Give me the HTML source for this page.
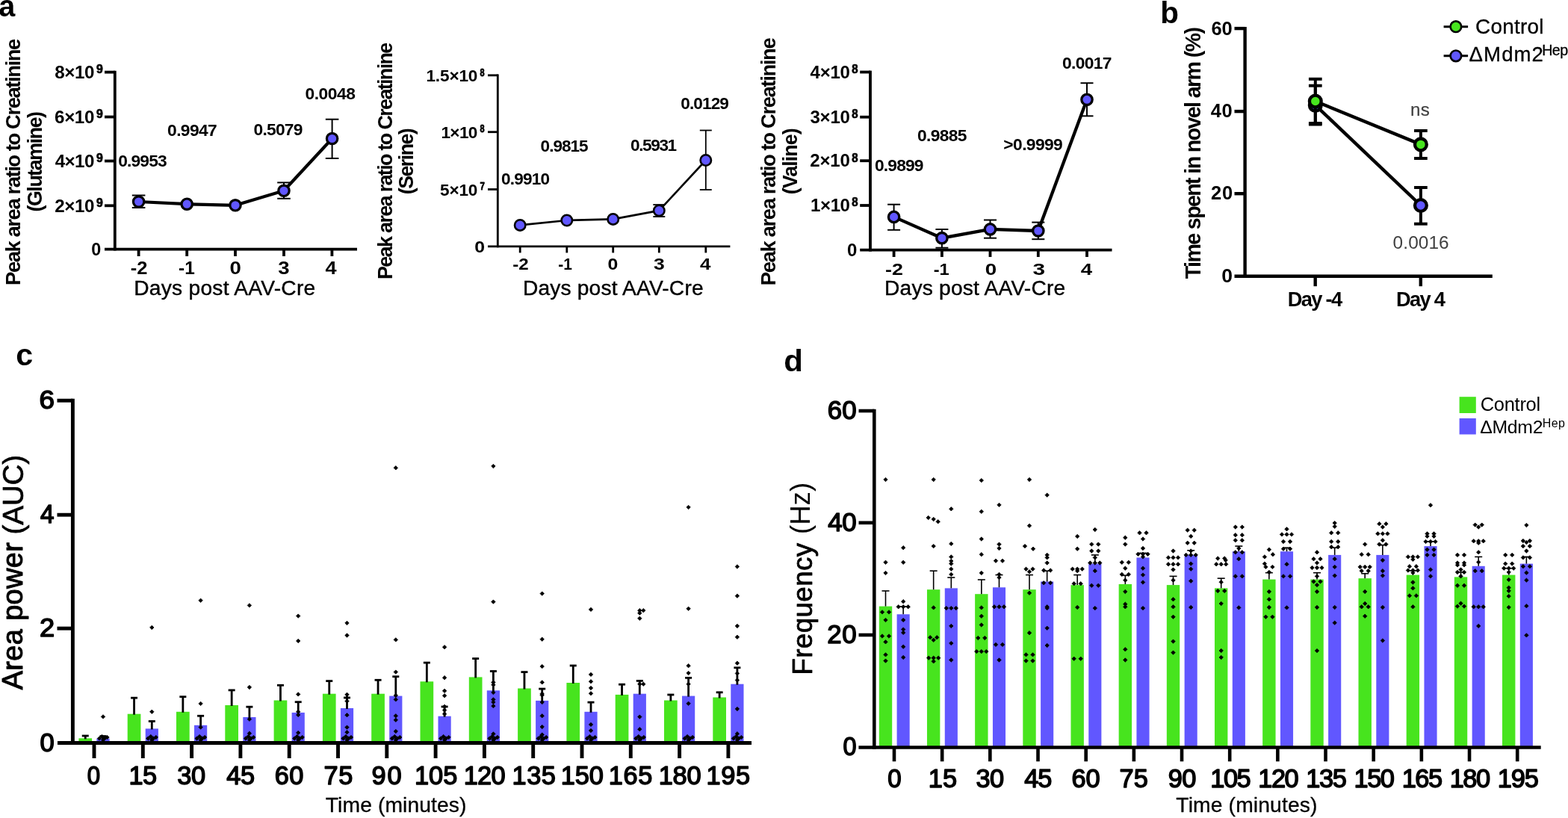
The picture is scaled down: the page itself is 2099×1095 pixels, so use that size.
<!DOCTYPE html>
<html><head><meta charset="utf-8"><title>Figure</title>
<style>html,body{margin:0;padding:0;background:#fff;overflow:hidden}svg{display:block}</style></head>
<body><svg width="2099" height="1095" viewBox="0 0 2099 1095" font-family="'Liberation Sans', Arial, sans-serif">
<rect width="2099" height="1095" fill="#fff"/>
<text x="-1.79" y="22.00" font-size="40.00" font-weight="bold" fill="#000" textLength="22.04" lengthAdjust="spacingAndGlyphs">a</text>
<text x="1553.37" y="30.60" font-size="40.00" font-weight="bold" fill="#000" textLength="24.68" lengthAdjust="spacingAndGlyphs">b</text>
<text x="21.25" y="489.10" font-size="40.00" font-weight="bold" fill="#000" textLength="22.93" lengthAdjust="spacingAndGlyphs">c</text>
<text x="1049.22" y="497.20" font-size="40.00" font-weight="bold" fill="#000" textLength="25.64" lengthAdjust="spacingAndGlyphs">d</text>
<line x1="140.00" y1="333.60" x2="478.00" y2="333.60" stroke="#000" stroke-width="3.8" stroke-linecap="butt"/>
<line x1="153.80" y1="94.70" x2="153.80" y2="335.50" stroke="#000" stroke-width="3.8" stroke-linecap="butt"/>
<line x1="140.00" y1="96.60" x2="153.80" y2="96.60" stroke="#000" stroke-width="3.8" stroke-linecap="butt"/>
<line x1="140.00" y1="156.50" x2="153.80" y2="156.50" stroke="#000" stroke-width="3.8" stroke-linecap="butt"/>
<line x1="140.00" y1="215.50" x2="153.80" y2="215.50" stroke="#000" stroke-width="3.8" stroke-linecap="butt"/>
<line x1="140.00" y1="275.30" x2="153.80" y2="275.30" stroke="#000" stroke-width="3.8" stroke-linecap="butt"/>
<line x1="185.60" y1="333.60" x2="185.60" y2="343.00" stroke="#000" stroke-width="3.8" stroke-linecap="butt"/>
<line x1="250.20" y1="333.60" x2="250.20" y2="343.00" stroke="#000" stroke-width="3.8" stroke-linecap="butt"/>
<line x1="315.00" y1="333.60" x2="315.00" y2="343.00" stroke="#000" stroke-width="3.8" stroke-linecap="butt"/>
<line x1="380.00" y1="333.60" x2="380.00" y2="343.00" stroke="#000" stroke-width="3.8" stroke-linecap="butt"/>
<line x1="444.40" y1="333.60" x2="444.40" y2="343.00" stroke="#000" stroke-width="3.8" stroke-linecap="butt"/>
<text x="73.21" y="105.20" font-size="24.20" font-weight="bold" fill="#000" textLength="53.15" lengthAdjust="spacing">8×10</text>
<text x="128.99" y="97.96" font-size="16.51" font-weight="bold" fill="#000" textLength="8.83" lengthAdjust="spacingAndGlyphs" stroke="#000" stroke-width="0.7" stroke-linejoin="round">9</text>
<text x="73.09" y="165.10" font-size="24.20" font-weight="bold" fill="#000" textLength="53.28" lengthAdjust="spacing">6×10</text>
<text x="128.99" y="157.86" font-size="16.51" font-weight="bold" fill="#000" textLength="8.83" lengthAdjust="spacingAndGlyphs" stroke="#000" stroke-width="0.7" stroke-linejoin="round">9</text>
<text x="73.64" y="224.10" font-size="24.20" font-weight="bold" fill="#000" textLength="52.73" lengthAdjust="spacing">4×10</text>
<text x="128.99" y="216.86" font-size="16.51" font-weight="bold" fill="#000" textLength="8.83" lengthAdjust="spacingAndGlyphs" stroke="#000" stroke-width="0.7" stroke-linejoin="round">9</text>
<text x="73.15" y="283.90" font-size="24.20" font-weight="bold" fill="#000" textLength="53.22" lengthAdjust="spacing">2×10</text>
<text x="128.99" y="276.66" font-size="16.51" font-weight="bold" fill="#000" textLength="8.83" lengthAdjust="spacingAndGlyphs" stroke="#000" stroke-width="0.7" stroke-linejoin="round">9</text>
<text x="122.27" y="342.00" font-size="24.20" font-weight="bold" fill="#000" textLength="13.00" lengthAdjust="spacingAndGlyphs">0</text>
<text x="174.68" y="367.00" font-size="24.60" font-weight="bold" fill="#000" textLength="22.68" lengthAdjust="spacingAndGlyphs">-2</text>
<text x="239.02" y="367.00" font-size="24.60" font-weight="bold" fill="#000" textLength="21.69" lengthAdjust="spacingAndGlyphs">-1</text>
<text x="307.40" y="367.00" font-size="24.60" font-weight="bold" fill="#000" textLength="15.34" lengthAdjust="spacingAndGlyphs">0</text>
<text x="372.28" y="367.00" font-size="24.60" font-weight="bold" fill="#000" textLength="15.32" lengthAdjust="spacingAndGlyphs">3</text>
<text x="435.49" y="367.00" font-size="24.60" font-weight="bold" fill="#000" textLength="15.07" lengthAdjust="spacingAndGlyphs">4</text>
<text x="179.28" y="395.19" font-size="28.16" fill="#000" textLength="242.92" lengthAdjust="spacing" stroke="#000" stroke-width="0.4" stroke-linejoin="round">Days post AAV-Cre</text>
<text transform="translate(26.70,381.96) rotate(-90)" x="0" y="0" font-size="27.50" font-weight="bold" fill="#000" textLength="330.27" lengthAdjust="spacing">Peak area ratio to Creatinine</text>
<text transform="translate(56.00,283.54) rotate(-90)" x="0" y="0" font-size="26.80" font-weight="bold" fill="#000" textLength="134.60" lengthAdjust="spacing">(Glutamine)</text>
<line x1="185.60" y1="261.50" x2="185.60" y2="278.00" stroke="#000" stroke-width="2.0" stroke-linecap="butt"/>
<line x1="176.80" y1="261.50" x2="194.40" y2="261.50" stroke="#000" stroke-width="2.0" stroke-linecap="butt"/>
<line x1="176.80" y1="278.00" x2="194.40" y2="278.00" stroke="#000" stroke-width="2.0" stroke-linecap="butt"/>
<line x1="380.00" y1="244.40" x2="380.00" y2="265.80" stroke="#000" stroke-width="2.0" stroke-linecap="butt"/>
<line x1="371.20" y1="244.40" x2="388.80" y2="244.40" stroke="#000" stroke-width="2.0" stroke-linecap="butt"/>
<line x1="371.20" y1="265.80" x2="388.80" y2="265.80" stroke="#000" stroke-width="2.0" stroke-linecap="butt"/>
<line x1="444.60" y1="159.70" x2="444.60" y2="212.00" stroke="#000" stroke-width="2.0" stroke-linecap="butt"/>
<line x1="435.80" y1="159.70" x2="453.40" y2="159.70" stroke="#000" stroke-width="2.0" stroke-linecap="butt"/>
<line x1="435.80" y1="212.00" x2="453.40" y2="212.00" stroke="#000" stroke-width="2.0" stroke-linecap="butt"/>
<path d="M185.60,270.00 L250.20,273.20 L315.00,274.80 L380.00,255.30 L444.60,185.50" fill="none" stroke="#000" stroke-width="4.2" stroke-linejoin="round"/>
<circle cx="185.60" cy="270.00" r="7.20" fill="#6157FF" stroke="#000" stroke-width="3.2"/>
<circle cx="250.20" cy="273.20" r="7.20" fill="#6157FF" stroke="#000" stroke-width="3.2"/>
<circle cx="315.00" cy="274.80" r="7.20" fill="#6157FF" stroke="#000" stroke-width="3.2"/>
<circle cx="380.00" cy="255.30" r="7.20" fill="#6157FF" stroke="#000" stroke-width="3.2"/>
<circle cx="444.60" cy="185.50" r="7.20" fill="#6157FF" stroke="#000" stroke-width="3.2"/>
<text x="158.29" y="222.80" font-size="22.80" font-weight="bold" fill="#000" textLength="65.34" lengthAdjust="spacing">0.9953</text>
<text x="224.09" y="182.10" font-size="22.80" font-weight="bold" fill="#000" textLength="66.61" lengthAdjust="spacing">0.9947</text>
<text x="339.49" y="181.40" font-size="22.80" font-weight="bold" fill="#000" textLength="65.94" lengthAdjust="spacing">0.5079</text>
<text x="408.39" y="133.40" font-size="22.80" font-weight="bold" fill="#000" textLength="67.62" lengthAdjust="spacing">0.0048</text>
<line x1="653.00" y1="329.90" x2="977.40" y2="329.90" stroke="#000" stroke-width="2.8" stroke-linecap="butt"/>
<line x1="666.30" y1="99.40" x2="666.30" y2="331.30" stroke="#000" stroke-width="2.8" stroke-linecap="butt"/>
<line x1="653.00" y1="100.80" x2="666.30" y2="100.80" stroke="#000" stroke-width="2.8" stroke-linecap="butt"/>
<line x1="653.00" y1="176.70" x2="666.30" y2="176.70" stroke="#000" stroke-width="2.8" stroke-linecap="butt"/>
<line x1="653.00" y1="253.50" x2="666.30" y2="253.50" stroke="#000" stroke-width="2.8" stroke-linecap="butt"/>
<line x1="696.20" y1="329.90" x2="696.20" y2="338.40" stroke="#000" stroke-width="2.8" stroke-linecap="butt"/>
<line x1="758.80" y1="329.90" x2="758.80" y2="338.40" stroke="#000" stroke-width="2.8" stroke-linecap="butt"/>
<line x1="820.70" y1="329.90" x2="820.70" y2="338.40" stroke="#000" stroke-width="2.8" stroke-linecap="butt"/>
<line x1="882.30" y1="329.90" x2="882.30" y2="338.40" stroke="#000" stroke-width="2.8" stroke-linecap="butt"/>
<line x1="944.80" y1="329.90" x2="944.80" y2="338.40" stroke="#000" stroke-width="2.8" stroke-linecap="butt"/>
<text x="570.39" y="109.40" font-size="22.60" font-weight="bold" fill="#000" textLength="69.05" lengthAdjust="spacing">1.5×10</text>
<text x="642.54" y="101.91" font-size="14.37" font-weight="bold" fill="#000" textLength="6.10" lengthAdjust="spacingAndGlyphs" stroke="#000" stroke-width="0.8" stroke-linejoin="round">8</text>
<text x="590.39" y="184.70" font-size="22.60" font-weight="bold" fill="#000" textLength="49.02" lengthAdjust="spacing">1×10</text>
<text x="642.54" y="177.21" font-size="14.37" font-weight="bold" fill="#000" textLength="6.10" lengthAdjust="spacingAndGlyphs" stroke="#000" stroke-width="0.8" stroke-linejoin="round">8</text>
<text x="589.12" y="261.50" font-size="22.60" font-weight="bold" fill="#000" textLength="50.28" lengthAdjust="spacing">5×10</text>
<text x="642.41" y="254.00" font-size="14.34" font-weight="bold" fill="#000" textLength="6.39" lengthAdjust="spacingAndGlyphs" stroke="#000" stroke-width="0.8" stroke-linejoin="round">7</text>
<text x="635.21" y="337.60" font-size="22.60" font-weight="bold" fill="#000" textLength="13.82" lengthAdjust="spacingAndGlyphs">0</text>
<text x="686.23" y="361.30" font-size="22.60" font-weight="bold" fill="#000" textLength="21.47" lengthAdjust="spacingAndGlyphs">-2</text>
<text x="747.36" y="361.30" font-size="22.60" font-weight="bold" fill="#000" textLength="18.65" lengthAdjust="spacingAndGlyphs">-1</text>
<text x="813.51" y="361.30" font-size="22.60" font-weight="bold" fill="#000" textLength="13.82" lengthAdjust="spacingAndGlyphs">0</text>
<text x="875.00" y="361.30" font-size="22.60" font-weight="bold" fill="#000" textLength="14.76" lengthAdjust="spacingAndGlyphs">3</text>
<text x="936.91" y="361.30" font-size="22.60" font-weight="bold" fill="#000" textLength="14.45" lengthAdjust="spacingAndGlyphs">4</text>
<text x="699.98" y="395.09" font-size="28.16" fill="#000" textLength="241.62" lengthAdjust="spacing" stroke="#000" stroke-width="0.4" stroke-linejoin="round">Days post AAV-Cre</text>
<text transform="translate(524.80,374.02) rotate(-90)" x="0" y="0" font-size="27.00" font-weight="bold" fill="#000" textLength="317.32" lengthAdjust="spacing">Peak area ratio to Creatinine</text>
<text transform="translate(553.00,260.24) rotate(-90)" x="0" y="0" font-size="26.80" font-weight="bold" fill="#000" textLength="89.00" lengthAdjust="spacing">(Serine)</text>
<line x1="882.30" y1="274.00" x2="882.30" y2="290.00" stroke="#000" stroke-width="1.8" stroke-linecap="butt"/>
<line x1="874.30" y1="274.00" x2="890.30" y2="274.00" stroke="#000" stroke-width="1.8" stroke-linecap="butt"/>
<line x1="874.30" y1="290.00" x2="890.30" y2="290.00" stroke="#000" stroke-width="1.8" stroke-linecap="butt"/>
<line x1="944.80" y1="174.50" x2="944.80" y2="254.00" stroke="#000" stroke-width="1.8" stroke-linecap="butt"/>
<line x1="936.80" y1="174.50" x2="952.80" y2="174.50" stroke="#000" stroke-width="1.8" stroke-linecap="butt"/>
<line x1="936.80" y1="254.00" x2="952.80" y2="254.00" stroke="#000" stroke-width="1.8" stroke-linecap="butt"/>
<path d="M696.20,301.40 L758.80,295.00 L820.70,293.40 L882.30,281.90 L944.80,214.50" fill="none" stroke="#000" stroke-width="2.6" stroke-linejoin="round"/>
<circle cx="696.20" cy="301.40" r="7.20" fill="#6157FF" stroke="#000" stroke-width="2.6"/>
<circle cx="758.80" cy="295.00" r="7.20" fill="#6157FF" stroke="#000" stroke-width="2.6"/>
<circle cx="820.70" cy="293.40" r="7.20" fill="#6157FF" stroke="#000" stroke-width="2.6"/>
<circle cx="882.30" cy="281.90" r="7.20" fill="#6157FF" stroke="#000" stroke-width="2.6"/>
<circle cx="944.80" cy="214.50" r="7.20" fill="#6157FF" stroke="#000" stroke-width="2.6"/>
<text x="671.00" y="246.80" font-size="22.60" font-weight="bold" fill="#000" textLength="65.04" lengthAdjust="spacing">0.9910</text>
<text x="723.60" y="203.30" font-size="22.60" font-weight="bold" fill="#000" textLength="64.05" lengthAdjust="spacing">0.9815</text>
<text x="844.00" y="202.30" font-size="22.60" font-weight="bold" fill="#000" textLength="62.15" lengthAdjust="spacing">0.5931</text>
<text x="911.20" y="146.00" font-size="22.60" font-weight="bold" fill="#000" textLength="64.72" lengthAdjust="spacing">0.0129</text>
<line x1="1151.20" y1="334.70" x2="1488.50" y2="334.70" stroke="#000" stroke-width="3.8" stroke-linecap="butt"/>
<line x1="1165.00" y1="94.60" x2="1165.00" y2="336.60" stroke="#000" stroke-width="3.8" stroke-linecap="butt"/>
<line x1="1151.20" y1="96.50" x2="1165.00" y2="96.50" stroke="#000" stroke-width="3.8" stroke-linecap="butt"/>
<line x1="1151.20" y1="156.70" x2="1165.00" y2="156.70" stroke="#000" stroke-width="3.8" stroke-linecap="butt"/>
<line x1="1151.20" y1="215.20" x2="1165.00" y2="215.20" stroke="#000" stroke-width="3.8" stroke-linecap="butt"/>
<line x1="1151.20" y1="275.00" x2="1165.00" y2="275.00" stroke="#000" stroke-width="3.8" stroke-linecap="butt"/>
<line x1="1196.60" y1="334.70" x2="1196.60" y2="344.00" stroke="#000" stroke-width="3.8" stroke-linecap="butt"/>
<line x1="1260.90" y1="334.70" x2="1260.90" y2="344.00" stroke="#000" stroke-width="3.8" stroke-linecap="butt"/>
<line x1="1325.50" y1="334.70" x2="1325.50" y2="344.00" stroke="#000" stroke-width="3.8" stroke-linecap="butt"/>
<line x1="1389.80" y1="334.70" x2="1389.80" y2="344.00" stroke="#000" stroke-width="3.8" stroke-linecap="butt"/>
<line x1="1455.00" y1="334.70" x2="1455.00" y2="344.00" stroke="#000" stroke-width="3.8" stroke-linecap="butt"/>
<text x="1084.54" y="104.70" font-size="24.00" font-weight="bold" fill="#000" textLength="53.42" lengthAdjust="spacing">4×10</text>
<text x="1140.36" y="97.86" font-size="16.01" font-weight="bold" fill="#000" textLength="8.36" lengthAdjust="spacingAndGlyphs" stroke="#000" stroke-width="0.7" stroke-linejoin="round">8</text>
<text x="1084.46" y="164.90" font-size="24.00" font-weight="bold" fill="#000" textLength="53.50" lengthAdjust="spacing">3×10</text>
<text x="1140.36" y="158.06" font-size="16.01" font-weight="bold" fill="#000" textLength="8.36" lengthAdjust="spacingAndGlyphs" stroke="#000" stroke-width="0.7" stroke-linejoin="round">8</text>
<text x="1084.16" y="223.40" font-size="24.00" font-weight="bold" fill="#000" textLength="53.80" lengthAdjust="spacing">2×10</text>
<text x="1140.36" y="216.56" font-size="16.01" font-weight="bold" fill="#000" textLength="8.36" lengthAdjust="spacingAndGlyphs" stroke="#000" stroke-width="0.7" stroke-linejoin="round">8</text>
<text x="1085.10" y="283.20" font-size="24.00" font-weight="bold" fill="#000" textLength="52.86" lengthAdjust="spacing">1×10</text>
<text x="1140.36" y="276.36" font-size="16.01" font-weight="bold" fill="#000" textLength="8.36" lengthAdjust="spacingAndGlyphs" stroke="#000" stroke-width="0.7" stroke-linejoin="round">8</text>
<text x="1134.04" y="342.90" font-size="24.00" font-weight="bold" fill="#000" textLength="13.35" lengthAdjust="spacingAndGlyphs">0</text>
<text x="1185.13" y="368.20" font-size="22.30" font-weight="bold" fill="#000" textLength="23.89" lengthAdjust="spacingAndGlyphs">-2</text>
<text x="1249.65" y="368.20" font-size="22.30" font-weight="bold" fill="#000" textLength="21.04" lengthAdjust="spacingAndGlyphs">-1</text>
<text x="1318.69" y="368.20" font-size="22.30" font-weight="bold" fill="#000" textLength="15.46" lengthAdjust="spacingAndGlyphs">0</text>
<text x="1382.43" y="368.20" font-size="22.30" font-weight="bold" fill="#000" textLength="16.55" lengthAdjust="spacingAndGlyphs">3</text>
<text x="1446.69" y="368.20" font-size="22.30" font-weight="bold" fill="#000" textLength="15.39" lengthAdjust="spacingAndGlyphs">4</text>
<text x="1184.08" y="395.29" font-size="28.16" fill="#000" textLength="242.12" lengthAdjust="spacing" stroke="#000" stroke-width="0.4" stroke-linejoin="round">Days post AAV-Cre</text>
<text transform="translate(1037.80,382.26) rotate(-90)" x="0" y="0" font-size="27.50" font-weight="bold" fill="#000" textLength="332.07" lengthAdjust="spacing">Peak area ratio to Creatinine</text>
<text transform="translate(1066.80,260.34) rotate(-90)" x="0" y="0" font-size="26.80" font-weight="bold" fill="#000" textLength="89.06" lengthAdjust="spacing">(Valine)</text>
<line x1="1196.60" y1="273.70" x2="1196.60" y2="307.80" stroke="#000" stroke-width="2.0" stroke-linecap="butt"/>
<line x1="1188.10" y1="273.70" x2="1205.10" y2="273.70" stroke="#000" stroke-width="2.0" stroke-linecap="butt"/>
<line x1="1188.10" y1="307.80" x2="1205.10" y2="307.80" stroke="#000" stroke-width="2.0" stroke-linecap="butt"/>
<line x1="1260.90" y1="307.00" x2="1260.90" y2="331.70" stroke="#000" stroke-width="2.0" stroke-linecap="butt"/>
<line x1="1252.40" y1="307.00" x2="1269.40" y2="307.00" stroke="#000" stroke-width="2.0" stroke-linecap="butt"/>
<line x1="1252.40" y1="331.70" x2="1269.40" y2="331.70" stroke="#000" stroke-width="2.0" stroke-linecap="butt"/>
<line x1="1325.50" y1="294.50" x2="1325.50" y2="318.70" stroke="#000" stroke-width="2.0" stroke-linecap="butt"/>
<line x1="1317.00" y1="294.50" x2="1334.00" y2="294.50" stroke="#000" stroke-width="2.0" stroke-linecap="butt"/>
<line x1="1317.00" y1="318.70" x2="1334.00" y2="318.70" stroke="#000" stroke-width="2.0" stroke-linecap="butt"/>
<line x1="1389.80" y1="297.60" x2="1389.80" y2="320.20" stroke="#000" stroke-width="2.0" stroke-linecap="butt"/>
<line x1="1381.30" y1="297.60" x2="1398.30" y2="297.60" stroke="#000" stroke-width="2.0" stroke-linecap="butt"/>
<line x1="1381.30" y1="320.20" x2="1398.30" y2="320.20" stroke="#000" stroke-width="2.0" stroke-linecap="butt"/>
<line x1="1455.00" y1="111.20" x2="1455.00" y2="155.30" stroke="#000" stroke-width="2.0" stroke-linecap="butt"/>
<line x1="1446.50" y1="111.20" x2="1463.50" y2="111.20" stroke="#000" stroke-width="2.0" stroke-linecap="butt"/>
<line x1="1446.50" y1="155.30" x2="1463.50" y2="155.30" stroke="#000" stroke-width="2.0" stroke-linecap="butt"/>
<path d="M1196.60,290.40 L1260.90,318.70 L1325.50,306.90 L1389.80,309.00 L1455.00,133.30" fill="none" stroke="#000" stroke-width="4.3" stroke-linejoin="round"/>
<circle cx="1196.60" cy="290.40" r="7.20" fill="#6157FF" stroke="#000" stroke-width="3.3"/>
<circle cx="1260.90" cy="318.70" r="7.20" fill="#6157FF" stroke="#000" stroke-width="3.3"/>
<circle cx="1325.50" cy="306.90" r="7.20" fill="#6157FF" stroke="#000" stroke-width="3.3"/>
<circle cx="1389.80" cy="309.00" r="7.20" fill="#6157FF" stroke="#000" stroke-width="3.3"/>
<circle cx="1455.00" cy="133.30" r="7.20" fill="#6157FF" stroke="#000" stroke-width="3.3"/>
<text x="1170.99" y="229.40" font-size="22.80" font-weight="bold" fill="#000" textLength="65.54" lengthAdjust="spacing">0.9899</text>
<text x="1227.89" y="188.90" font-size="22.80" font-weight="bold" fill="#000" textLength="66.57" lengthAdjust="spacing">0.9885</text>
<text x="1343.33" y="201.00" font-size="22.80" font-weight="bold" fill="#000" textLength="79.47" lengthAdjust="spacing">&gt;0.9999</text>
<text x="1421.99" y="92.30" font-size="22.80" font-weight="bold" fill="#000" textLength="66.41" lengthAdjust="spacing">0.0017</text>
<line x1="1652.50" y1="369.70" x2="1997.80" y2="369.70" stroke="#000" stroke-width="4.4" stroke-linecap="butt"/>
<line x1="1666.60" y1="35.90" x2="1666.60" y2="371.90" stroke="#000" stroke-width="4.4" stroke-linecap="butt"/>
<line x1="1652.50" y1="38.10" x2="1666.60" y2="38.10" stroke="#000" stroke-width="4.4" stroke-linecap="butt"/>
<line x1="1652.50" y1="149.10" x2="1666.60" y2="149.10" stroke="#000" stroke-width="4.4" stroke-linecap="butt"/>
<line x1="1652.50" y1="259.20" x2="1666.60" y2="259.20" stroke="#000" stroke-width="4.4" stroke-linecap="butt"/>
<line x1="1760.70" y1="369.70" x2="1760.70" y2="383.20" stroke="#000" stroke-width="4.4" stroke-linecap="butt"/>
<line x1="1901.80" y1="369.70" x2="1901.80" y2="383.20" stroke="#000" stroke-width="4.4" stroke-linecap="butt"/>
<text x="1621.44" y="46.90" font-size="25.50" font-weight="bold" fill="#000" textLength="28.34" lengthAdjust="spacing">60</text>
<text x="1620.82" y="157.20" font-size="25.50" font-weight="bold" fill="#000" textLength="28.96" lengthAdjust="spacing">40</text>
<text x="1621.01" y="267.40" font-size="25.50" font-weight="bold" fill="#000" textLength="29.07" lengthAdjust="spacing">20</text>
<text x="1635.34" y="377.60" font-size="25.50" font-weight="bold" fill="#000" textLength="14.75" lengthAdjust="spacingAndGlyphs">0</text>
<text transform="translate(1606.50,373.19) rotate(-90)" x="0" y="0" font-size="28.60" font-weight="bold" fill="#000" textLength="337.12" lengthAdjust="spacing">Time spent in novel arm (%)</text>
<text x="1723.66" y="410.30" font-size="27.30" font-weight="bold" fill="#000" textLength="73.52" lengthAdjust="spacing">Day -4</text>
<text x="1869.06" y="410.30" font-size="27.30" font-weight="bold" fill="#000" textLength="65.81" lengthAdjust="spacing">Day 4</text>
<text x="1888.07" y="155.20" font-size="24.13" fill="#404040" textLength="25.70" lengthAdjust="spacing" stroke="#404040" stroke-width="0.2" stroke-linejoin="round">ns</text>
<text x="1864.62" y="332.60" font-size="24.40" fill="#404040" textLength="75.04" lengthAdjust="spacing">0.0016</text>
<line x1="1760.80" y1="114.70" x2="1760.80" y2="166.50" stroke="#000" stroke-width="4.0" stroke-linecap="butt"/>
<line x1="1751.95" y1="114.70" x2="1769.65" y2="114.70" stroke="#000" stroke-width="4.0" stroke-linecap="butt"/>
<line x1="1751.95" y1="166.50" x2="1769.65" y2="166.50" stroke="#000" stroke-width="4.0" stroke-linecap="butt"/>
<line x1="1901.90" y1="251.00" x2="1901.90" y2="299.70" stroke="#000" stroke-width="4.0" stroke-linecap="butt"/>
<line x1="1893.05" y1="251.00" x2="1910.75" y2="251.00" stroke="#000" stroke-width="4.0" stroke-linecap="butt"/>
<line x1="1893.05" y1="299.70" x2="1910.75" y2="299.70" stroke="#000" stroke-width="4.0" stroke-linecap="butt"/>
<path d="M1760.8,140.8 L1901.9,275" fill="none" stroke="#000" stroke-width="4.4"/>
<circle cx="1760.80" cy="140.80" r="7.90" fill="#6157FF" stroke="#000" stroke-width="4.3"/>
<circle cx="1901.90" cy="275.00" r="7.90" fill="#6157FF" stroke="#000" stroke-width="4.3"/>
<line x1="1760.80" y1="105.80" x2="1760.80" y2="165.00" stroke="#000" stroke-width="4.0" stroke-linecap="butt"/>
<line x1="1751.95" y1="105.80" x2="1769.65" y2="105.80" stroke="#000" stroke-width="4.0" stroke-linecap="butt"/>
<line x1="1751.95" y1="165.00" x2="1769.65" y2="165.00" stroke="#000" stroke-width="4.0" stroke-linecap="butt"/>
<line x1="1901.90" y1="175.00" x2="1901.90" y2="212.00" stroke="#000" stroke-width="4.0" stroke-linecap="butt"/>
<line x1="1893.05" y1="175.00" x2="1910.75" y2="175.00" stroke="#000" stroke-width="4.0" stroke-linecap="butt"/>
<line x1="1893.05" y1="212.00" x2="1910.75" y2="212.00" stroke="#000" stroke-width="4.0" stroke-linecap="butt"/>
<path d="M1760.8,135.5 L1901.9,193.4" fill="none" stroke="#000" stroke-width="4.4"/>
<circle cx="1760.80" cy="135.50" r="7.90" fill="#47E41E" stroke="#000" stroke-width="4.3"/>
<circle cx="1901.90" cy="193.40" r="7.90" fill="#47E41E" stroke="#000" stroke-width="4.3"/>
<line x1="1932.60" y1="35.70" x2="1965.10" y2="35.70" stroke="#000" stroke-width="3.0" stroke-linecap="butt"/>
<circle cx="1948.90" cy="35.70" r="7.30" fill="#47E41E" stroke="#000" stroke-width="2.6"/>
<line x1="1932.60" y1="74.80" x2="1965.10" y2="74.80" stroke="#000" stroke-width="3.0" stroke-linecap="butt"/>
<circle cx="1948.90" cy="74.80" r="7.30" fill="#6157FF" stroke="#000" stroke-width="2.6"/>
<text x="1975.06" y="44.55" font-size="27.89" fill="#000" textLength="91.34" lengthAdjust="spacing" stroke="#000" stroke-width="0.3" stroke-linejoin="round">Control</text>
<text x="1966.62" y="81.75" font-size="27.59" fill="#000" textLength="99.34" lengthAdjust="spacing" stroke="#000" stroke-width="0.3" stroke-linejoin="round">ΔMdm2</text>
<text x="2064.23" y="74.22" font-size="19.66" fill="#000" textLength="34.85" lengthAdjust="spacing" stroke="#000" stroke-width="0.3" stroke-linejoin="round">Hep</text>
<rect x="105.40" y="988.30" width="17.70" height="6.20" fill="#47E41E"/>
<rect x="129.40" y="988.50" width="17.20" height="6.00" fill="#6157FF"/>
<rect x="170.70" y="955.70" width="17.70" height="38.80" fill="#47E41E"/>
<rect x="194.70" y="975.40" width="17.20" height="19.10" fill="#6157FF"/>
<rect x="236.00" y="952.80" width="17.70" height="41.70" fill="#47E41E"/>
<rect x="260.00" y="970.80" width="17.20" height="23.70" fill="#6157FF"/>
<rect x="301.30" y="944.00" width="17.70" height="50.50" fill="#47E41E"/>
<rect x="325.30" y="960.00" width="17.20" height="34.50" fill="#6157FF"/>
<rect x="366.60" y="937.50" width="17.70" height="57.00" fill="#47E41E"/>
<rect x="390.60" y="953.90" width="17.20" height="40.60" fill="#6157FF"/>
<rect x="431.90" y="928.70" width="17.70" height="65.80" fill="#47E41E"/>
<rect x="455.90" y="948.00" width="17.20" height="46.50" fill="#6157FF"/>
<rect x="497.20" y="928.70" width="17.70" height="65.80" fill="#47E41E"/>
<rect x="521.20" y="931.60" width="17.20" height="62.90" fill="#6157FF"/>
<rect x="562.50" y="912.30" width="17.70" height="82.20" fill="#47E41E"/>
<rect x="586.50" y="958.70" width="17.20" height="35.80" fill="#6157FF"/>
<rect x="627.80" y="906.40" width="17.70" height="88.10" fill="#47E41E"/>
<rect x="651.80" y="924.30" width="17.20" height="70.20" fill="#6157FF"/>
<rect x="693.10" y="921.50" width="17.70" height="73.00" fill="#47E41E"/>
<rect x="717.10" y="937.90" width="17.20" height="56.60" fill="#6157FF"/>
<rect x="758.40" y="914.00" width="17.70" height="80.50" fill="#47E41E"/>
<rect x="782.40" y="952.80" width="17.20" height="41.70" fill="#6157FF"/>
<rect x="823.70" y="929.90" width="17.70" height="64.60" fill="#47E41E"/>
<rect x="847.70" y="928.70" width="17.20" height="65.80" fill="#6157FF"/>
<rect x="889.00" y="937.50" width="17.70" height="57.00" fill="#47E41E"/>
<rect x="913.00" y="931.60" width="17.20" height="62.90" fill="#6157FF"/>
<rect x="954.30" y="933.50" width="17.70" height="61.00" fill="#47E41E"/>
<rect x="978.30" y="915.70" width="17.20" height="78.80" fill="#6157FF"/>
<line x1="114.25" y1="985.00" x2="114.25" y2="989.30" stroke="#000" stroke-width="2.8" stroke-linecap="butt"/>
<line x1="109.75" y1="985.00" x2="118.75" y2="985.00" stroke="#000" stroke-width="2.8" stroke-linecap="butt"/>
<line x1="138.00" y1="985.50" x2="138.00" y2="989.50" stroke="#000" stroke-width="2.8" stroke-linecap="butt"/>
<line x1="133.50" y1="985.50" x2="142.50" y2="985.50" stroke="#000" stroke-width="2.8" stroke-linecap="butt"/>
<line x1="179.55" y1="934.20" x2="179.55" y2="956.70" stroke="#000" stroke-width="2.8" stroke-linecap="butt"/>
<line x1="175.05" y1="934.20" x2="184.05" y2="934.20" stroke="#000" stroke-width="2.8" stroke-linecap="butt"/>
<line x1="203.30" y1="965.50" x2="203.30" y2="976.40" stroke="#000" stroke-width="2.8" stroke-linecap="butt"/>
<line x1="198.80" y1="965.50" x2="207.80" y2="965.50" stroke="#000" stroke-width="2.8" stroke-linecap="butt"/>
<line x1="244.85" y1="932.70" x2="244.85" y2="953.80" stroke="#000" stroke-width="2.8" stroke-linecap="butt"/>
<line x1="240.35" y1="932.70" x2="249.35" y2="932.70" stroke="#000" stroke-width="2.8" stroke-linecap="butt"/>
<line x1="268.60" y1="958.30" x2="268.60" y2="971.80" stroke="#000" stroke-width="2.8" stroke-linecap="butt"/>
<line x1="264.10" y1="958.30" x2="273.10" y2="958.30" stroke="#000" stroke-width="2.8" stroke-linecap="butt"/>
<line x1="310.15" y1="923.90" x2="310.15" y2="945.00" stroke="#000" stroke-width="2.8" stroke-linecap="butt"/>
<line x1="305.65" y1="923.90" x2="314.65" y2="923.90" stroke="#000" stroke-width="2.8" stroke-linecap="butt"/>
<line x1="333.90" y1="946.20" x2="333.90" y2="961.00" stroke="#000" stroke-width="2.8" stroke-linecap="butt"/>
<line x1="329.40" y1="946.20" x2="338.40" y2="946.20" stroke="#000" stroke-width="2.8" stroke-linecap="butt"/>
<line x1="375.45" y1="917.30" x2="375.45" y2="938.50" stroke="#000" stroke-width="2.8" stroke-linecap="butt"/>
<line x1="370.95" y1="917.30" x2="379.95" y2="917.30" stroke="#000" stroke-width="2.8" stroke-linecap="butt"/>
<line x1="399.20" y1="939.70" x2="399.20" y2="954.90" stroke="#000" stroke-width="2.8" stroke-linecap="butt"/>
<line x1="394.70" y1="939.70" x2="403.70" y2="939.70" stroke="#000" stroke-width="2.8" stroke-linecap="butt"/>
<line x1="440.75" y1="911.60" x2="440.75" y2="929.70" stroke="#000" stroke-width="2.8" stroke-linecap="butt"/>
<line x1="436.25" y1="911.60" x2="445.25" y2="911.60" stroke="#000" stroke-width="2.8" stroke-linecap="butt"/>
<line x1="464.50" y1="934.00" x2="464.50" y2="949.00" stroke="#000" stroke-width="2.8" stroke-linecap="butt"/>
<line x1="460.00" y1="934.00" x2="469.00" y2="934.00" stroke="#000" stroke-width="2.8" stroke-linecap="butt"/>
<line x1="506.05" y1="910.30" x2="506.05" y2="929.70" stroke="#000" stroke-width="2.8" stroke-linecap="butt"/>
<line x1="501.55" y1="910.30" x2="510.55" y2="910.30" stroke="#000" stroke-width="2.8" stroke-linecap="butt"/>
<line x1="529.80" y1="905.70" x2="529.80" y2="932.60" stroke="#000" stroke-width="2.8" stroke-linecap="butt"/>
<line x1="525.30" y1="905.70" x2="534.30" y2="905.70" stroke="#000" stroke-width="2.8" stroke-linecap="butt"/>
<line x1="571.35" y1="887.10" x2="571.35" y2="913.30" stroke="#000" stroke-width="2.8" stroke-linecap="butt"/>
<line x1="566.85" y1="887.10" x2="575.85" y2="887.10" stroke="#000" stroke-width="2.8" stroke-linecap="butt"/>
<line x1="595.10" y1="946.00" x2="595.10" y2="959.70" stroke="#000" stroke-width="2.8" stroke-linecap="butt"/>
<line x1="590.60" y1="946.00" x2="599.60" y2="946.00" stroke="#000" stroke-width="2.8" stroke-linecap="butt"/>
<line x1="636.65" y1="881.60" x2="636.65" y2="907.40" stroke="#000" stroke-width="2.8" stroke-linecap="butt"/>
<line x1="632.15" y1="881.60" x2="641.15" y2="881.60" stroke="#000" stroke-width="2.8" stroke-linecap="butt"/>
<line x1="660.40" y1="898.50" x2="660.40" y2="925.30" stroke="#000" stroke-width="2.8" stroke-linecap="butt"/>
<line x1="655.90" y1="898.50" x2="664.90" y2="898.50" stroke="#000" stroke-width="2.8" stroke-linecap="butt"/>
<line x1="701.95" y1="899.60" x2="701.95" y2="922.50" stroke="#000" stroke-width="2.8" stroke-linecap="butt"/>
<line x1="697.45" y1="899.60" x2="706.45" y2="899.60" stroke="#000" stroke-width="2.8" stroke-linecap="butt"/>
<line x1="725.70" y1="922.10" x2="725.70" y2="938.90" stroke="#000" stroke-width="2.8" stroke-linecap="butt"/>
<line x1="721.20" y1="922.10" x2="730.20" y2="922.10" stroke="#000" stroke-width="2.8" stroke-linecap="butt"/>
<line x1="767.25" y1="891.00" x2="767.25" y2="915.00" stroke="#000" stroke-width="2.8" stroke-linecap="butt"/>
<line x1="762.75" y1="891.00" x2="771.75" y2="891.00" stroke="#000" stroke-width="2.8" stroke-linecap="butt"/>
<line x1="791.00" y1="940.10" x2="791.00" y2="953.80" stroke="#000" stroke-width="2.8" stroke-linecap="butt"/>
<line x1="786.50" y1="940.10" x2="795.50" y2="940.10" stroke="#000" stroke-width="2.8" stroke-linecap="butt"/>
<line x1="832.55" y1="916.20" x2="832.55" y2="930.90" stroke="#000" stroke-width="2.8" stroke-linecap="butt"/>
<line x1="828.05" y1="916.20" x2="837.05" y2="916.20" stroke="#000" stroke-width="2.8" stroke-linecap="butt"/>
<line x1="856.30" y1="911.40" x2="856.30" y2="929.70" stroke="#000" stroke-width="2.8" stroke-linecap="butt"/>
<line x1="851.80" y1="911.40" x2="860.80" y2="911.40" stroke="#000" stroke-width="2.8" stroke-linecap="butt"/>
<line x1="897.85" y1="930.00" x2="897.85" y2="938.50" stroke="#000" stroke-width="2.8" stroke-linecap="butt"/>
<line x1="893.35" y1="930.00" x2="902.35" y2="930.00" stroke="#000" stroke-width="2.8" stroke-linecap="butt"/>
<line x1="921.60" y1="907.40" x2="921.60" y2="932.60" stroke="#000" stroke-width="2.8" stroke-linecap="butt"/>
<line x1="917.10" y1="907.40" x2="926.10" y2="907.40" stroke="#000" stroke-width="2.8" stroke-linecap="butt"/>
<line x1="963.15" y1="926.80" x2="963.15" y2="934.50" stroke="#000" stroke-width="2.8" stroke-linecap="butt"/>
<line x1="958.65" y1="926.80" x2="967.65" y2="926.80" stroke="#000" stroke-width="2.8" stroke-linecap="butt"/>
<line x1="986.90" y1="893.80" x2="986.90" y2="916.70" stroke="#000" stroke-width="2.8" stroke-linecap="butt"/>
<line x1="982.40" y1="893.80" x2="991.40" y2="893.80" stroke="#000" stroke-width="2.8" stroke-linecap="butt"/>
<path d="M138.0,956.7l2.7,2.7 -2.7,2.7 -2.7,-2.7z" stroke="#000" stroke-width="0.8" stroke-linejoin="round"/>
<path d="M133.0,985.8l2.7,2.7 -2.7,2.7 -2.7,-2.7z" stroke="#000" stroke-width="0.8" stroke-linejoin="round"/>
<path d="M136.5,983.3l2.7,2.7 -2.7,2.7 -2.7,-2.7z" stroke="#000" stroke-width="0.8" stroke-linejoin="round"/>
<path d="M140.0,985.8l2.7,2.7 -2.7,2.7 -2.7,-2.7z" stroke="#000" stroke-width="0.8" stroke-linejoin="round"/>
<path d="M143.5,984.3l2.7,2.7 -2.7,2.7 -2.7,-2.7z" stroke="#000" stroke-width="0.8" stroke-linejoin="round"/>
<path d="M138.0,987.8l2.7,2.7 -2.7,2.7 -2.7,-2.7z" stroke="#000" stroke-width="0.8" stroke-linejoin="round"/>
<path d="M203.3,837.3l2.7,2.7 -2.7,2.7 -2.7,-2.7z" stroke="#000" stroke-width="0.8" stroke-linejoin="round"/>
<path d="M203.3,950.1l2.7,2.7 -2.7,2.7 -2.7,-2.7z" stroke="#000" stroke-width="0.8" stroke-linejoin="round"/>
<path d="M198.3,985.8l2.7,2.7 -2.7,2.7 -2.7,-2.7z" stroke="#000" stroke-width="0.8" stroke-linejoin="round"/>
<path d="M201.8,983.3l2.7,2.7 -2.7,2.7 -2.7,-2.7z" stroke="#000" stroke-width="0.8" stroke-linejoin="round"/>
<path d="M205.3,985.8l2.7,2.7 -2.7,2.7 -2.7,-2.7z" stroke="#000" stroke-width="0.8" stroke-linejoin="round"/>
<path d="M208.8,984.3l2.7,2.7 -2.7,2.7 -2.7,-2.7z" stroke="#000" stroke-width="0.8" stroke-linejoin="round"/>
<path d="M203.3,987.8l2.7,2.7 -2.7,2.7 -2.7,-2.7z" stroke="#000" stroke-width="0.8" stroke-linejoin="round"/>
<path d="M268.6,801.1l2.7,2.7 -2.7,2.7 -2.7,-2.7z" stroke="#000" stroke-width="0.8" stroke-linejoin="round"/>
<path d="M268.6,939.2l2.7,2.7 -2.7,2.7 -2.7,-2.7z" stroke="#000" stroke-width="0.8" stroke-linejoin="round"/>
<path d="M268.6,970.9l2.7,2.7 -2.7,2.7 -2.7,-2.7z" stroke="#000" stroke-width="0.8" stroke-linejoin="round"/>
<path d="M263.6,985.8l2.7,2.7 -2.7,2.7 -2.7,-2.7z" stroke="#000" stroke-width="0.8" stroke-linejoin="round"/>
<path d="M267.1,983.3l2.7,2.7 -2.7,2.7 -2.7,-2.7z" stroke="#000" stroke-width="0.8" stroke-linejoin="round"/>
<path d="M270.6,985.8l2.7,2.7 -2.7,2.7 -2.7,-2.7z" stroke="#000" stroke-width="0.8" stroke-linejoin="round"/>
<path d="M274.1,984.3l2.7,2.7 -2.7,2.7 -2.7,-2.7z" stroke="#000" stroke-width="0.8" stroke-linejoin="round"/>
<path d="M268.6,987.8l2.7,2.7 -2.7,2.7 -2.7,-2.7z" stroke="#000" stroke-width="0.8" stroke-linejoin="round"/>
<path d="M333.9,807.7l2.7,2.7 -2.7,2.7 -2.7,-2.7z" stroke="#000" stroke-width="0.8" stroke-linejoin="round"/>
<path d="M333.9,917.3l2.7,2.7 -2.7,2.7 -2.7,-2.7z" stroke="#000" stroke-width="0.8" stroke-linejoin="round"/>
<path d="M333.9,960.0l2.7,2.7 -2.7,2.7 -2.7,-2.7z" stroke="#000" stroke-width="0.8" stroke-linejoin="round"/>
<path d="M333.9,979.0l2.7,2.7 -2.7,2.7 -2.7,-2.7z" stroke="#000" stroke-width="0.8" stroke-linejoin="round"/>
<path d="M328.9,985.8l2.7,2.7 -2.7,2.7 -2.7,-2.7z" stroke="#000" stroke-width="0.8" stroke-linejoin="round"/>
<path d="M332.4,983.3l2.7,2.7 -2.7,2.7 -2.7,-2.7z" stroke="#000" stroke-width="0.8" stroke-linejoin="round"/>
<path d="M335.9,985.8l2.7,2.7 -2.7,2.7 -2.7,-2.7z" stroke="#000" stroke-width="0.8" stroke-linejoin="round"/>
<path d="M339.4,984.3l2.7,2.7 -2.7,2.7 -2.7,-2.7z" stroke="#000" stroke-width="0.8" stroke-linejoin="round"/>
<path d="M333.9,987.8l2.7,2.7 -2.7,2.7 -2.7,-2.7z" stroke="#000" stroke-width="0.8" stroke-linejoin="round"/>
<path d="M399.2,821.9l2.7,2.7 -2.7,2.7 -2.7,-2.7z" stroke="#000" stroke-width="0.8" stroke-linejoin="round"/>
<path d="M399.2,855.3l2.7,2.7 -2.7,2.7 -2.7,-2.7z" stroke="#000" stroke-width="0.8" stroke-linejoin="round"/>
<path d="M399.2,926.7l2.7,2.7 -2.7,2.7 -2.7,-2.7z" stroke="#000" stroke-width="0.8" stroke-linejoin="round"/>
<path d="M399.2,950.1l2.7,2.7 -2.7,2.7 -2.7,-2.7z" stroke="#000" stroke-width="0.8" stroke-linejoin="round"/>
<path d="M399.2,954.3l2.7,2.7 -2.7,2.7 -2.7,-2.7z" stroke="#000" stroke-width="0.8" stroke-linejoin="round"/>
<path d="M399.2,978.2l2.7,2.7 -2.7,2.7 -2.7,-2.7z" stroke="#000" stroke-width="0.8" stroke-linejoin="round"/>
<path d="M394.2,985.8l2.7,2.7 -2.7,2.7 -2.7,-2.7z" stroke="#000" stroke-width="0.8" stroke-linejoin="round"/>
<path d="M397.7,983.3l2.7,2.7 -2.7,2.7 -2.7,-2.7z" stroke="#000" stroke-width="0.8" stroke-linejoin="round"/>
<path d="M401.2,985.8l2.7,2.7 -2.7,2.7 -2.7,-2.7z" stroke="#000" stroke-width="0.8" stroke-linejoin="round"/>
<path d="M404.7,984.3l2.7,2.7 -2.7,2.7 -2.7,-2.7z" stroke="#000" stroke-width="0.8" stroke-linejoin="round"/>
<path d="M399.2,987.8l2.7,2.7 -2.7,2.7 -2.7,-2.7z" stroke="#000" stroke-width="0.8" stroke-linejoin="round"/>
<path d="M464.5,831.3l2.7,2.7 -2.7,2.7 -2.7,-2.7z" stroke="#000" stroke-width="0.8" stroke-linejoin="round"/>
<path d="M464.5,847.8l2.7,2.7 -2.7,2.7 -2.7,-2.7z" stroke="#000" stroke-width="0.8" stroke-linejoin="round"/>
<path d="M464.5,927.1l2.7,2.7 -2.7,2.7 -2.7,-2.7z" stroke="#000" stroke-width="0.8" stroke-linejoin="round"/>
<path d="M464.5,931.3l2.7,2.7 -2.7,2.7 -2.7,-2.7z" stroke="#000" stroke-width="0.8" stroke-linejoin="round"/>
<path d="M464.5,935.9l2.7,2.7 -2.7,2.7 -2.7,-2.7z" stroke="#000" stroke-width="0.8" stroke-linejoin="round"/>
<path d="M464.5,954.5l2.7,2.7 -2.7,2.7 -2.7,-2.7z" stroke="#000" stroke-width="0.8" stroke-linejoin="round"/>
<path d="M464.5,970.9l2.7,2.7 -2.7,2.7 -2.7,-2.7z" stroke="#000" stroke-width="0.8" stroke-linejoin="round"/>
<path d="M464.5,977.5l2.7,2.7 -2.7,2.7 -2.7,-2.7z" stroke="#000" stroke-width="0.8" stroke-linejoin="round"/>
<path d="M459.5,985.8l2.7,2.7 -2.7,2.7 -2.7,-2.7z" stroke="#000" stroke-width="0.8" stroke-linejoin="round"/>
<path d="M463.0,983.3l2.7,2.7 -2.7,2.7 -2.7,-2.7z" stroke="#000" stroke-width="0.8" stroke-linejoin="round"/>
<path d="M466.5,985.8l2.7,2.7 -2.7,2.7 -2.7,-2.7z" stroke="#000" stroke-width="0.8" stroke-linejoin="round"/>
<path d="M470.0,984.3l2.7,2.7 -2.7,2.7 -2.7,-2.7z" stroke="#000" stroke-width="0.8" stroke-linejoin="round"/>
<path d="M464.5,987.8l2.7,2.7 -2.7,2.7 -2.7,-2.7z" stroke="#000" stroke-width="0.8" stroke-linejoin="round"/>
<path d="M529.8,623.6l2.7,2.7 -2.7,2.7 -2.7,-2.7z" stroke="#000" stroke-width="0.8" stroke-linejoin="round"/>
<path d="M529.8,853.7l2.7,2.7 -2.7,2.7 -2.7,-2.7z" stroke="#000" stroke-width="0.8" stroke-linejoin="round"/>
<path d="M529.8,896.9l2.7,2.7 -2.7,2.7 -2.7,-2.7z" stroke="#000" stroke-width="0.8" stroke-linejoin="round"/>
<path d="M529.8,928.3l2.7,2.7 -2.7,2.7 -2.7,-2.7z" stroke="#000" stroke-width="0.8" stroke-linejoin="round"/>
<path d="M529.8,933.7l2.7,2.7 -2.7,2.7 -2.7,-2.7z" stroke="#000" stroke-width="0.8" stroke-linejoin="round"/>
<path d="M529.8,955.6l2.7,2.7 -2.7,2.7 -2.7,-2.7z" stroke="#000" stroke-width="0.8" stroke-linejoin="round"/>
<path d="M529.8,961.1l2.7,2.7 -2.7,2.7 -2.7,-2.7z" stroke="#000" stroke-width="0.8" stroke-linejoin="round"/>
<path d="M529.8,976.3l2.7,2.7 -2.7,2.7 -2.7,-2.7z" stroke="#000" stroke-width="0.8" stroke-linejoin="round"/>
<path d="M524.8,985.8l2.7,2.7 -2.7,2.7 -2.7,-2.7z" stroke="#000" stroke-width="0.8" stroke-linejoin="round"/>
<path d="M528.3,983.3l2.7,2.7 -2.7,2.7 -2.7,-2.7z" stroke="#000" stroke-width="0.8" stroke-linejoin="round"/>
<path d="M531.8,985.8l2.7,2.7 -2.7,2.7 -2.7,-2.7z" stroke="#000" stroke-width="0.8" stroke-linejoin="round"/>
<path d="M535.3,984.3l2.7,2.7 -2.7,2.7 -2.7,-2.7z" stroke="#000" stroke-width="0.8" stroke-linejoin="round"/>
<path d="M529.8,987.8l2.7,2.7 -2.7,2.7 -2.7,-2.7z" stroke="#000" stroke-width="0.8" stroke-linejoin="round"/>
<path d="M595.1,863.6l2.7,2.7 -2.7,2.7 -2.7,-2.7z" stroke="#000" stroke-width="0.8" stroke-linejoin="round"/>
<path d="M595.1,904.5l2.7,2.7 -2.7,2.7 -2.7,-2.7z" stroke="#000" stroke-width="0.8" stroke-linejoin="round"/>
<path d="M595.1,922.1l2.7,2.7 -2.7,2.7 -2.7,-2.7z" stroke="#000" stroke-width="0.8" stroke-linejoin="round"/>
<path d="M595.1,928.6l2.7,2.7 -2.7,2.7 -2.7,-2.7z" stroke="#000" stroke-width="0.8" stroke-linejoin="round"/>
<path d="M595.1,943.1l2.7,2.7 -2.7,2.7 -2.7,-2.7z" stroke="#000" stroke-width="0.8" stroke-linejoin="round"/>
<path d="M595.1,947.9l2.7,2.7 -2.7,2.7 -2.7,-2.7z" stroke="#000" stroke-width="0.8" stroke-linejoin="round"/>
<path d="M595.1,953.0l2.7,2.7 -2.7,2.7 -2.7,-2.7z" stroke="#000" stroke-width="0.8" stroke-linejoin="round"/>
<path d="M590.1,985.8l2.7,2.7 -2.7,2.7 -2.7,-2.7z" stroke="#000" stroke-width="0.8" stroke-linejoin="round"/>
<path d="M593.6,983.3l2.7,2.7 -2.7,2.7 -2.7,-2.7z" stroke="#000" stroke-width="0.8" stroke-linejoin="round"/>
<path d="M597.1,985.8l2.7,2.7 -2.7,2.7 -2.7,-2.7z" stroke="#000" stroke-width="0.8" stroke-linejoin="round"/>
<path d="M600.6,984.3l2.7,2.7 -2.7,2.7 -2.7,-2.7z" stroke="#000" stroke-width="0.8" stroke-linejoin="round"/>
<path d="M595.1,987.8l2.7,2.7 -2.7,2.7 -2.7,-2.7z" stroke="#000" stroke-width="0.8" stroke-linejoin="round"/>
<path d="M660.4,621.3l2.7,2.7 -2.7,2.7 -2.7,-2.7z" stroke="#000" stroke-width="0.8" stroke-linejoin="round"/>
<path d="M660.4,802.9l2.7,2.7 -2.7,2.7 -2.7,-2.7z" stroke="#000" stroke-width="0.8" stroke-linejoin="round"/>
<path d="M660.4,910.7l2.7,2.7 -2.7,2.7 -2.7,-2.7z" stroke="#000" stroke-width="0.8" stroke-linejoin="round"/>
<path d="M660.4,914.0l2.7,2.7 -2.7,2.7 -2.7,-2.7z" stroke="#000" stroke-width="0.8" stroke-linejoin="round"/>
<path d="M660.4,924.3l2.7,2.7 -2.7,2.7 -2.7,-2.7z" stroke="#000" stroke-width="0.8" stroke-linejoin="round"/>
<path d="M660.4,933.7l2.7,2.7 -2.7,2.7 -2.7,-2.7z" stroke="#000" stroke-width="0.8" stroke-linejoin="round"/>
<path d="M660.4,937.3l2.7,2.7 -2.7,2.7 -2.7,-2.7z" stroke="#000" stroke-width="0.8" stroke-linejoin="round"/>
<path d="M660.4,942.4l2.7,2.7 -2.7,2.7 -2.7,-2.7z" stroke="#000" stroke-width="0.8" stroke-linejoin="round"/>
<path d="M660.4,979.7l2.7,2.7 -2.7,2.7 -2.7,-2.7z" stroke="#000" stroke-width="0.8" stroke-linejoin="round"/>
<path d="M655.4,985.8l2.7,2.7 -2.7,2.7 -2.7,-2.7z" stroke="#000" stroke-width="0.8" stroke-linejoin="round"/>
<path d="M658.9,983.3l2.7,2.7 -2.7,2.7 -2.7,-2.7z" stroke="#000" stroke-width="0.8" stroke-linejoin="round"/>
<path d="M662.4,985.8l2.7,2.7 -2.7,2.7 -2.7,-2.7z" stroke="#000" stroke-width="0.8" stroke-linejoin="round"/>
<path d="M665.9,984.3l2.7,2.7 -2.7,2.7 -2.7,-2.7z" stroke="#000" stroke-width="0.8" stroke-linejoin="round"/>
<path d="M660.4,987.8l2.7,2.7 -2.7,2.7 -2.7,-2.7z" stroke="#000" stroke-width="0.8" stroke-linejoin="round"/>
<path d="M725.7,791.9l2.7,2.7 -2.7,2.7 -2.7,-2.7z" stroke="#000" stroke-width="0.8" stroke-linejoin="round"/>
<path d="M725.7,853.0l2.7,2.7 -2.7,2.7 -2.7,-2.7z" stroke="#000" stroke-width="0.8" stroke-linejoin="round"/>
<path d="M725.7,889.4l2.7,2.7 -2.7,2.7 -2.7,-2.7z" stroke="#000" stroke-width="0.8" stroke-linejoin="round"/>
<path d="M725.7,910.7l2.7,2.7 -2.7,2.7 -2.7,-2.7z" stroke="#000" stroke-width="0.8" stroke-linejoin="round"/>
<path d="M725.7,926.0l2.7,2.7 -2.7,2.7 -2.7,-2.7z" stroke="#000" stroke-width="0.8" stroke-linejoin="round"/>
<path d="M725.7,927.8l2.7,2.7 -2.7,2.7 -2.7,-2.7z" stroke="#000" stroke-width="0.8" stroke-linejoin="round"/>
<path d="M725.7,937.3l2.7,2.7 -2.7,2.7 -2.7,-2.7z" stroke="#000" stroke-width="0.8" stroke-linejoin="round"/>
<path d="M725.7,955.6l2.7,2.7 -2.7,2.7 -2.7,-2.7z" stroke="#000" stroke-width="0.8" stroke-linejoin="round"/>
<path d="M725.7,970.3l2.7,2.7 -2.7,2.7 -2.7,-2.7z" stroke="#000" stroke-width="0.8" stroke-linejoin="round"/>
<path d="M725.7,980.8l2.7,2.7 -2.7,2.7 -2.7,-2.7z" stroke="#000" stroke-width="0.8" stroke-linejoin="round"/>
<path d="M720.7,985.8l2.7,2.7 -2.7,2.7 -2.7,-2.7z" stroke="#000" stroke-width="0.8" stroke-linejoin="round"/>
<path d="M724.2,983.3l2.7,2.7 -2.7,2.7 -2.7,-2.7z" stroke="#000" stroke-width="0.8" stroke-linejoin="round"/>
<path d="M727.7,985.8l2.7,2.7 -2.7,2.7 -2.7,-2.7z" stroke="#000" stroke-width="0.8" stroke-linejoin="round"/>
<path d="M731.2,984.3l2.7,2.7 -2.7,2.7 -2.7,-2.7z" stroke="#000" stroke-width="0.8" stroke-linejoin="round"/>
<path d="M725.7,987.8l2.7,2.7 -2.7,2.7 -2.7,-2.7z" stroke="#000" stroke-width="0.8" stroke-linejoin="round"/>
<path d="M791.0,813.2l2.7,2.7 -2.7,2.7 -2.7,-2.7z" stroke="#000" stroke-width="0.8" stroke-linejoin="round"/>
<path d="M791.0,900.2l2.7,2.7 -2.7,2.7 -2.7,-2.7z" stroke="#000" stroke-width="0.8" stroke-linejoin="round"/>
<path d="M791.0,909.6l2.7,2.7 -2.7,2.7 -2.7,-2.7z" stroke="#000" stroke-width="0.8" stroke-linejoin="round"/>
<path d="M791.0,918.3l2.7,2.7 -2.7,2.7 -2.7,-2.7z" stroke="#000" stroke-width="0.8" stroke-linejoin="round"/>
<path d="M791.0,925.6l2.7,2.7 -2.7,2.7 -2.7,-2.7z" stroke="#000" stroke-width="0.8" stroke-linejoin="round"/>
<path d="M791.0,967.2l2.7,2.7 -2.7,2.7 -2.7,-2.7z" stroke="#000" stroke-width="0.8" stroke-linejoin="round"/>
<path d="M791.0,975.3l2.7,2.7 -2.7,2.7 -2.7,-2.7z" stroke="#000" stroke-width="0.8" stroke-linejoin="round"/>
<path d="M786.0,985.8l2.7,2.7 -2.7,2.7 -2.7,-2.7z" stroke="#000" stroke-width="0.8" stroke-linejoin="round"/>
<path d="M789.5,983.3l2.7,2.7 -2.7,2.7 -2.7,-2.7z" stroke="#000" stroke-width="0.8" stroke-linejoin="round"/>
<path d="M793.0,985.8l2.7,2.7 -2.7,2.7 -2.7,-2.7z" stroke="#000" stroke-width="0.8" stroke-linejoin="round"/>
<path d="M796.5,984.3l2.7,2.7 -2.7,2.7 -2.7,-2.7z" stroke="#000" stroke-width="0.8" stroke-linejoin="round"/>
<path d="M791.0,987.8l2.7,2.7 -2.7,2.7 -2.7,-2.7z" stroke="#000" stroke-width="0.8" stroke-linejoin="round"/>
<path d="M856.3,814.5l2.7,2.7 -2.7,2.7 -2.7,-2.7z" stroke="#000" stroke-width="0.8" stroke-linejoin="round"/>
<path d="M861.3,814.5l2.7,2.7 -2.7,2.7 -2.7,-2.7z" stroke="#000" stroke-width="0.8" stroke-linejoin="round"/>
<path d="M856.3,818.0l2.7,2.7 -2.7,2.7 -2.7,-2.7z" stroke="#000" stroke-width="0.8" stroke-linejoin="round"/>
<path d="M856.3,825.1l2.7,2.7 -2.7,2.7 -2.7,-2.7z" stroke="#000" stroke-width="0.8" stroke-linejoin="round"/>
<path d="M856.3,913.0l2.7,2.7 -2.7,2.7 -2.7,-2.7z" stroke="#000" stroke-width="0.8" stroke-linejoin="round"/>
<path d="M861.3,913.0l2.7,2.7 -2.7,2.7 -2.7,-2.7z" stroke="#000" stroke-width="0.8" stroke-linejoin="round"/>
<path d="M856.3,956.9l2.7,2.7 -2.7,2.7 -2.7,-2.7z" stroke="#000" stroke-width="0.8" stroke-linejoin="round"/>
<path d="M856.3,973.5l2.7,2.7 -2.7,2.7 -2.7,-2.7z" stroke="#000" stroke-width="0.8" stroke-linejoin="round"/>
<path d="M851.3,985.8l2.7,2.7 -2.7,2.7 -2.7,-2.7z" stroke="#000" stroke-width="0.8" stroke-linejoin="round"/>
<path d="M854.8,983.3l2.7,2.7 -2.7,2.7 -2.7,-2.7z" stroke="#000" stroke-width="0.8" stroke-linejoin="round"/>
<path d="M858.3,985.8l2.7,2.7 -2.7,2.7 -2.7,-2.7z" stroke="#000" stroke-width="0.8" stroke-linejoin="round"/>
<path d="M861.8,984.3l2.7,2.7 -2.7,2.7 -2.7,-2.7z" stroke="#000" stroke-width="0.8" stroke-linejoin="round"/>
<path d="M856.3,987.8l2.7,2.7 -2.7,2.7 -2.7,-2.7z" stroke="#000" stroke-width="0.8" stroke-linejoin="round"/>
<path d="M921.6,676.3l2.7,2.7 -2.7,2.7 -2.7,-2.7z" stroke="#000" stroke-width="0.8" stroke-linejoin="round"/>
<path d="M921.6,812.1l2.7,2.7 -2.7,2.7 -2.7,-2.7z" stroke="#000" stroke-width="0.8" stroke-linejoin="round"/>
<path d="M921.6,888.5l2.7,2.7 -2.7,2.7 -2.7,-2.7z" stroke="#000" stroke-width="0.8" stroke-linejoin="round"/>
<path d="M921.6,898.3l2.7,2.7 -2.7,2.7 -2.7,-2.7z" stroke="#000" stroke-width="0.8" stroke-linejoin="round"/>
<path d="M921.6,913.0l2.7,2.7 -2.7,2.7 -2.7,-2.7z" stroke="#000" stroke-width="0.8" stroke-linejoin="round"/>
<path d="M921.6,939.1l2.7,2.7 -2.7,2.7 -2.7,-2.7z" stroke="#000" stroke-width="0.8" stroke-linejoin="round"/>
<path d="M916.6,985.8l2.7,2.7 -2.7,2.7 -2.7,-2.7z" stroke="#000" stroke-width="0.8" stroke-linejoin="round"/>
<path d="M920.1,983.3l2.7,2.7 -2.7,2.7 -2.7,-2.7z" stroke="#000" stroke-width="0.8" stroke-linejoin="round"/>
<path d="M923.6,985.8l2.7,2.7 -2.7,2.7 -2.7,-2.7z" stroke="#000" stroke-width="0.8" stroke-linejoin="round"/>
<path d="M927.1,984.3l2.7,2.7 -2.7,2.7 -2.7,-2.7z" stroke="#000" stroke-width="0.8" stroke-linejoin="round"/>
<path d="M921.6,987.8l2.7,2.7 -2.7,2.7 -2.7,-2.7z" stroke="#000" stroke-width="0.8" stroke-linejoin="round"/>
<path d="M986.9,755.8l2.7,2.7 -2.7,2.7 -2.7,-2.7z" stroke="#000" stroke-width="0.8" stroke-linejoin="round"/>
<path d="M986.9,795.0l2.7,2.7 -2.7,2.7 -2.7,-2.7z" stroke="#000" stroke-width="0.8" stroke-linejoin="round"/>
<path d="M986.9,835.3l2.7,2.7 -2.7,2.7 -2.7,-2.7z" stroke="#000" stroke-width="0.8" stroke-linejoin="round"/>
<path d="M986.9,850.1l2.7,2.7 -2.7,2.7 -2.7,-2.7z" stroke="#000" stroke-width="0.8" stroke-linejoin="round"/>
<path d="M986.9,885.0l2.7,2.7 -2.7,2.7 -2.7,-2.7z" stroke="#000" stroke-width="0.8" stroke-linejoin="round"/>
<path d="M986.9,898.7l2.7,2.7 -2.7,2.7 -2.7,-2.7z" stroke="#000" stroke-width="0.8" stroke-linejoin="round"/>
<path d="M986.9,907.8l2.7,2.7 -2.7,2.7 -2.7,-2.7z" stroke="#000" stroke-width="0.8" stroke-linejoin="round"/>
<path d="M986.9,946.3l2.7,2.7 -2.7,2.7 -2.7,-2.7z" stroke="#000" stroke-width="0.8" stroke-linejoin="round"/>
<path d="M986.9,979.5l2.7,2.7 -2.7,2.7 -2.7,-2.7z" stroke="#000" stroke-width="0.8" stroke-linejoin="round"/>
<path d="M981.9,985.8l2.7,2.7 -2.7,2.7 -2.7,-2.7z" stroke="#000" stroke-width="0.8" stroke-linejoin="round"/>
<path d="M985.4,983.3l2.7,2.7 -2.7,2.7 -2.7,-2.7z" stroke="#000" stroke-width="0.8" stroke-linejoin="round"/>
<path d="M988.9,985.8l2.7,2.7 -2.7,2.7 -2.7,-2.7z" stroke="#000" stroke-width="0.8" stroke-linejoin="round"/>
<path d="M992.4,984.3l2.7,2.7 -2.7,2.7 -2.7,-2.7z" stroke="#000" stroke-width="0.8" stroke-linejoin="round"/>
<path d="M986.9,987.8l2.7,2.7 -2.7,2.7 -2.7,-2.7z" stroke="#000" stroke-width="0.8" stroke-linejoin="round"/>
<line x1="77.00" y1="994.50" x2="1006.00" y2="994.50" stroke="#000" stroke-width="4.9" stroke-linecap="butt"/>
<line x1="97.40" y1="533.75" x2="97.40" y2="996.95" stroke="#000" stroke-width="4.9" stroke-linecap="butt"/>
<line x1="76.50" y1="536.20" x2="97.40" y2="536.20" stroke="#000" stroke-width="4.9" stroke-linecap="butt"/>
<line x1="76.50" y1="689.20" x2="97.40" y2="689.20" stroke="#000" stroke-width="4.9" stroke-linecap="butt"/>
<line x1="76.50" y1="841.20" x2="97.40" y2="841.20" stroke="#000" stroke-width="4.9" stroke-linecap="butt"/>
<line x1="126.00" y1="994.50" x2="126.00" y2="1015.00" stroke="#000" stroke-width="4.9" stroke-linecap="butt"/>
<line x1="191.30" y1="994.50" x2="191.30" y2="1015.00" stroke="#000" stroke-width="4.9" stroke-linecap="butt"/>
<line x1="256.60" y1="994.50" x2="256.60" y2="1015.00" stroke="#000" stroke-width="4.9" stroke-linecap="butt"/>
<line x1="321.90" y1="994.50" x2="321.90" y2="1015.00" stroke="#000" stroke-width="4.9" stroke-linecap="butt"/>
<line x1="387.20" y1="994.50" x2="387.20" y2="1015.00" stroke="#000" stroke-width="4.9" stroke-linecap="butt"/>
<line x1="452.50" y1="994.50" x2="452.50" y2="1015.00" stroke="#000" stroke-width="4.9" stroke-linecap="butt"/>
<line x1="517.80" y1="994.50" x2="517.80" y2="1015.00" stroke="#000" stroke-width="4.9" stroke-linecap="butt"/>
<line x1="583.10" y1="994.50" x2="583.10" y2="1015.00" stroke="#000" stroke-width="4.9" stroke-linecap="butt"/>
<line x1="648.40" y1="994.50" x2="648.40" y2="1015.00" stroke="#000" stroke-width="4.9" stroke-linecap="butt"/>
<line x1="713.70" y1="994.50" x2="713.70" y2="1015.00" stroke="#000" stroke-width="4.9" stroke-linecap="butt"/>
<line x1="779.00" y1="994.50" x2="779.00" y2="1015.00" stroke="#000" stroke-width="4.9" stroke-linecap="butt"/>
<line x1="844.30" y1="994.50" x2="844.30" y2="1015.00" stroke="#000" stroke-width="4.9" stroke-linecap="butt"/>
<line x1="909.60" y1="994.50" x2="909.60" y2="1015.00" stroke="#000" stroke-width="4.9" stroke-linecap="butt"/>
<line x1="974.90" y1="994.50" x2="974.90" y2="1015.00" stroke="#000" stroke-width="4.9" stroke-linecap="butt"/>
<text x="52.50" y="547.47" font-size="34.88" fill="#000" textLength="20.56" lengthAdjust="spacingAndGlyphs" stroke="#000" stroke-width="1.5" stroke-linejoin="round">6</text>
<text x="53.90" y="700.45" font-size="34.82" fill="#000" textLength="18.50" lengthAdjust="spacingAndGlyphs" stroke="#000" stroke-width="1.5" stroke-linejoin="round">4</text>
<text x="53.14" y="852.45" font-size="34.85" fill="#000" textLength="20.17" lengthAdjust="spacingAndGlyphs" stroke="#000" stroke-width="1.5" stroke-linejoin="round">2</text>
<text x="53.57" y="1005.77" font-size="34.88" fill="#000" textLength="19.22" lengthAdjust="spacingAndGlyphs" stroke="#000" stroke-width="1.5" stroke-linejoin="round">0</text>
<text x="116.70" y="1049.67" font-size="34.38" fill="#000" textLength="17.35" lengthAdjust="spacingAndGlyphs" stroke="#000" stroke-width="1.5" stroke-linejoin="round">0</text>
<text x="172.47" y="1049.67" font-size="34.35" fill="#000" textLength="37.73" lengthAdjust="spacing" stroke="#000" stroke-width="1.5" stroke-linejoin="round">15</text>
<text x="237.16" y="1049.67" font-size="34.38" fill="#000" textLength="38.06" lengthAdjust="spacing" stroke="#000" stroke-width="1.5" stroke-linejoin="round">30</text>
<text x="303.28" y="1049.67" font-size="34.35" fill="#000" textLength="37.93" lengthAdjust="spacing" stroke="#000" stroke-width="1.5" stroke-linejoin="round">45</text>
<text x="367.63" y="1049.67" font-size="34.38" fill="#000" textLength="38.79" lengthAdjust="spacing" stroke="#000" stroke-width="1.5" stroke-linejoin="round">60</text>
<text x="433.45" y="1049.67" font-size="34.35" fill="#000" textLength="38.86" lengthAdjust="spacing" stroke="#000" stroke-width="1.5" stroke-linejoin="round">75</text>
<text x="497.52" y="1049.67" font-size="34.38" fill="#000" textLength="40.10" lengthAdjust="spacing" stroke="#000" stroke-width="1.5" stroke-linejoin="round">90</text>
<text x="554.97" y="1049.67" font-size="34.38" fill="#000" textLength="57.29" lengthAdjust="spacing" stroke="#000" stroke-width="1.5" stroke-linejoin="round">105</text>
<text x="620.77" y="1049.67" font-size="34.38" fill="#000" textLength="55.80" lengthAdjust="spacing" stroke="#000" stroke-width="1.5" stroke-linejoin="round">120</text>
<text x="685.47" y="1049.67" font-size="34.38" fill="#000" textLength="58.49" lengthAdjust="spacing" stroke="#000" stroke-width="1.5" stroke-linejoin="round">135</text>
<text x="750.77" y="1049.67" font-size="34.38" fill="#000" textLength="57.10" lengthAdjust="spacing" stroke="#000" stroke-width="1.5" stroke-linejoin="round">150</text>
<text x="814.77" y="1049.67" font-size="34.38" fill="#000" textLength="58.49" lengthAdjust="spacing" stroke="#000" stroke-width="1.5" stroke-linejoin="round">165</text>
<text x="881.67" y="1049.67" font-size="34.38" fill="#000" textLength="56.90" lengthAdjust="spacing" stroke="#000" stroke-width="1.5" stroke-linejoin="round">180</text>
<text x="945.57" y="1049.67" font-size="34.38" fill="#000" textLength="58.49" lengthAdjust="spacing" stroke="#000" stroke-width="1.5" stroke-linejoin="round">195</text>
<text transform="translate(30.43,923.29) rotate(-90)" x="0" y="0" font-size="37.88" fill="#000" textLength="197.12" lengthAdjust="spacing" stroke="#000" stroke-width="1.0" stroke-linejoin="round">Area power</text>
<text transform="translate(30.71,715.47) rotate(-90)" x="0" y="0" font-size="38.75" fill="#000" textLength="106.64" lengthAdjust="spacing" stroke="#000" stroke-width="0.7" stroke-linejoin="round">(AUC)</text>
<text x="435.81" y="1087.22" font-size="28.28" fill="#000" textLength="188.72" lengthAdjust="spacing" stroke="#000" stroke-width="0.3" stroke-linejoin="round">Time (minutes)</text>
<rect x="1176.80" y="811.60" width="17.40" height="188.90" fill="#47E41E"/>
<rect x="1200.60" y="822.30" width="17.10" height="178.20" fill="#6157FF"/>
<rect x="1240.97" y="789.20" width="17.40" height="211.30" fill="#47E41E"/>
<rect x="1264.77" y="787.40" width="17.10" height="213.10" fill="#6157FF"/>
<rect x="1305.14" y="795.20" width="17.40" height="205.30" fill="#47E41E"/>
<rect x="1328.94" y="786.30" width="17.10" height="214.20" fill="#6157FF"/>
<rect x="1369.31" y="789.20" width="17.40" height="211.30" fill="#47E41E"/>
<rect x="1393.11" y="778.50" width="17.10" height="222.00" fill="#6157FF"/>
<rect x="1433.48" y="783.10" width="17.40" height="217.40" fill="#47E41E"/>
<rect x="1457.28" y="754.60" width="17.10" height="245.90" fill="#6157FF"/>
<rect x="1497.65" y="782.00" width="17.40" height="218.50" fill="#47E41E"/>
<rect x="1521.45" y="746.40" width="17.10" height="254.10" fill="#6157FF"/>
<rect x="1561.82" y="783.10" width="17.40" height="217.40" fill="#47E41E"/>
<rect x="1585.62" y="742.90" width="17.10" height="257.60" fill="#6157FF"/>
<rect x="1625.99" y="787.40" width="17.40" height="213.10" fill="#47E41E"/>
<rect x="1649.79" y="738.20" width="17.10" height="262.30" fill="#6157FF"/>
<rect x="1690.16" y="775.60" width="17.40" height="224.90" fill="#47E41E"/>
<rect x="1713.96" y="738.20" width="17.10" height="262.30" fill="#6157FF"/>
<rect x="1754.33" y="775.60" width="17.40" height="224.90" fill="#47E41E"/>
<rect x="1778.13" y="742.90" width="17.10" height="257.60" fill="#6157FF"/>
<rect x="1818.50" y="774.20" width="17.40" height="226.30" fill="#47E41E"/>
<rect x="1842.30" y="742.90" width="17.10" height="257.60" fill="#6157FF"/>
<rect x="1882.67" y="769.60" width="17.40" height="230.90" fill="#47E41E"/>
<rect x="1906.47" y="731.10" width="17.10" height="269.40" fill="#6157FF"/>
<rect x="1946.84" y="772.40" width="17.40" height="228.10" fill="#47E41E"/>
<rect x="1970.64" y="757.80" width="17.10" height="242.70" fill="#6157FF"/>
<rect x="2011.01" y="769.60" width="17.40" height="230.90" fill="#47E41E"/>
<rect x="2034.81" y="754.60" width="17.10" height="245.90" fill="#6157FF"/>
<line x1="1185.50" y1="791.00" x2="1185.50" y2="811.60" stroke="#000" stroke-width="1.6" stroke-linecap="butt"/>
<line x1="1180.50" y1="791.00" x2="1190.50" y2="791.00" stroke="#000" stroke-width="1.6" stroke-linecap="butt"/>
<line x1="1209.15" y1="812.00" x2="1209.15" y2="822.30" stroke="#000" stroke-width="1.6" stroke-linecap="butt"/>
<line x1="1204.15" y1="812.00" x2="1214.15" y2="812.00" stroke="#000" stroke-width="1.6" stroke-linecap="butt"/>
<line x1="1249.67" y1="764.20" x2="1249.67" y2="789.20" stroke="#000" stroke-width="1.6" stroke-linecap="butt"/>
<line x1="1244.67" y1="764.20" x2="1254.67" y2="764.20" stroke="#000" stroke-width="1.6" stroke-linecap="butt"/>
<line x1="1273.32" y1="773.10" x2="1273.32" y2="787.40" stroke="#000" stroke-width="1.6" stroke-linecap="butt"/>
<line x1="1268.32" y1="773.10" x2="1278.32" y2="773.10" stroke="#000" stroke-width="1.6" stroke-linecap="butt"/>
<line x1="1313.84" y1="776.00" x2="1313.84" y2="795.20" stroke="#000" stroke-width="1.6" stroke-linecap="butt"/>
<line x1="1308.84" y1="776.00" x2="1318.84" y2="776.00" stroke="#000" stroke-width="1.6" stroke-linecap="butt"/>
<line x1="1337.49" y1="769.60" x2="1337.49" y2="786.30" stroke="#000" stroke-width="1.6" stroke-linecap="butt"/>
<line x1="1332.49" y1="769.60" x2="1342.49" y2="769.60" stroke="#000" stroke-width="1.6" stroke-linecap="butt"/>
<line x1="1378.01" y1="769.60" x2="1378.01" y2="789.20" stroke="#000" stroke-width="1.6" stroke-linecap="butt"/>
<line x1="1373.01" y1="769.60" x2="1383.01" y2="769.60" stroke="#000" stroke-width="1.6" stroke-linecap="butt"/>
<line x1="1401.66" y1="764.20" x2="1401.66" y2="778.50" stroke="#000" stroke-width="1.6" stroke-linecap="butt"/>
<line x1="1396.66" y1="764.20" x2="1406.66" y2="764.20" stroke="#000" stroke-width="1.6" stroke-linecap="butt"/>
<line x1="1442.18" y1="769.60" x2="1442.18" y2="783.10" stroke="#000" stroke-width="1.6" stroke-linecap="butt"/>
<line x1="1437.18" y1="769.60" x2="1447.18" y2="769.60" stroke="#000" stroke-width="1.6" stroke-linecap="butt"/>
<line x1="1465.83" y1="742.90" x2="1465.83" y2="754.60" stroke="#000" stroke-width="1.6" stroke-linecap="butt"/>
<line x1="1460.83" y1="742.90" x2="1470.83" y2="742.90" stroke="#000" stroke-width="1.6" stroke-linecap="butt"/>
<line x1="1506.35" y1="770.30" x2="1506.35" y2="782.00" stroke="#000" stroke-width="1.6" stroke-linecap="butt"/>
<line x1="1501.35" y1="770.30" x2="1511.35" y2="770.30" stroke="#000" stroke-width="1.6" stroke-linecap="butt"/>
<line x1="1530.00" y1="740.40" x2="1530.00" y2="746.40" stroke="#000" stroke-width="1.6" stroke-linecap="butt"/>
<line x1="1525.00" y1="740.40" x2="1535.00" y2="740.40" stroke="#000" stroke-width="1.6" stroke-linecap="butt"/>
<line x1="1570.52" y1="771.40" x2="1570.52" y2="783.10" stroke="#000" stroke-width="1.6" stroke-linecap="butt"/>
<line x1="1565.52" y1="771.40" x2="1575.52" y2="771.40" stroke="#000" stroke-width="1.6" stroke-linecap="butt"/>
<line x1="1594.17" y1="736.80" x2="1594.17" y2="742.90" stroke="#000" stroke-width="1.6" stroke-linecap="butt"/>
<line x1="1589.17" y1="736.80" x2="1599.17" y2="736.80" stroke="#000" stroke-width="1.6" stroke-linecap="butt"/>
<line x1="1634.69" y1="774.20" x2="1634.69" y2="787.40" stroke="#000" stroke-width="1.6" stroke-linecap="butt"/>
<line x1="1629.69" y1="774.20" x2="1639.69" y2="774.20" stroke="#000" stroke-width="1.6" stroke-linecap="butt"/>
<line x1="1658.34" y1="731.10" x2="1658.34" y2="738.20" stroke="#000" stroke-width="1.6" stroke-linecap="butt"/>
<line x1="1653.34" y1="731.10" x2="1663.34" y2="731.10" stroke="#000" stroke-width="1.6" stroke-linecap="butt"/>
<line x1="1698.86" y1="766.70" x2="1698.86" y2="775.60" stroke="#000" stroke-width="1.6" stroke-linecap="butt"/>
<line x1="1693.86" y1="766.70" x2="1703.86" y2="766.70" stroke="#000" stroke-width="1.6" stroke-linecap="butt"/>
<line x1="1722.51" y1="733.20" x2="1722.51" y2="738.20" stroke="#000" stroke-width="1.6" stroke-linecap="butt"/>
<line x1="1717.51" y1="733.20" x2="1727.51" y2="733.20" stroke="#000" stroke-width="1.6" stroke-linecap="butt"/>
<line x1="1763.03" y1="766.70" x2="1763.03" y2="775.60" stroke="#000" stroke-width="1.6" stroke-linecap="butt"/>
<line x1="1758.03" y1="766.70" x2="1768.03" y2="766.70" stroke="#000" stroke-width="1.6" stroke-linecap="butt"/>
<line x1="1786.68" y1="733.20" x2="1786.68" y2="742.90" stroke="#000" stroke-width="1.6" stroke-linecap="butt"/>
<line x1="1781.68" y1="733.20" x2="1791.68" y2="733.20" stroke="#000" stroke-width="1.6" stroke-linecap="butt"/>
<line x1="1827.20" y1="767.80" x2="1827.20" y2="774.20" stroke="#000" stroke-width="1.6" stroke-linecap="butt"/>
<line x1="1822.20" y1="767.80" x2="1832.20" y2="767.80" stroke="#000" stroke-width="1.6" stroke-linecap="butt"/>
<line x1="1850.85" y1="729.70" x2="1850.85" y2="742.90" stroke="#000" stroke-width="1.6" stroke-linecap="butt"/>
<line x1="1845.85" y1="729.70" x2="1855.85" y2="729.70" stroke="#000" stroke-width="1.6" stroke-linecap="butt"/>
<line x1="1891.37" y1="764.00" x2="1891.37" y2="769.60" stroke="#000" stroke-width="1.6" stroke-linecap="butt"/>
<line x1="1886.37" y1="764.00" x2="1896.37" y2="764.00" stroke="#000" stroke-width="1.6" stroke-linecap="butt"/>
<line x1="1915.02" y1="725.00" x2="1915.02" y2="731.10" stroke="#000" stroke-width="1.6" stroke-linecap="butt"/>
<line x1="1910.02" y1="725.00" x2="1920.02" y2="725.00" stroke="#000" stroke-width="1.6" stroke-linecap="butt"/>
<line x1="1955.54" y1="766.00" x2="1955.54" y2="772.40" stroke="#000" stroke-width="1.6" stroke-linecap="butt"/>
<line x1="1950.54" y1="766.00" x2="1960.54" y2="766.00" stroke="#000" stroke-width="1.6" stroke-linecap="butt"/>
<line x1="1979.19" y1="745.40" x2="1979.19" y2="757.80" stroke="#000" stroke-width="1.6" stroke-linecap="butt"/>
<line x1="1974.19" y1="745.40" x2="1984.19" y2="745.40" stroke="#000" stroke-width="1.6" stroke-linecap="butt"/>
<line x1="2019.71" y1="760.70" x2="2019.71" y2="769.60" stroke="#000" stroke-width="1.6" stroke-linecap="butt"/>
<line x1="2014.71" y1="760.70" x2="2024.71" y2="760.70" stroke="#000" stroke-width="1.6" stroke-linecap="butt"/>
<line x1="2043.36" y1="745.40" x2="2043.36" y2="754.60" stroke="#000" stroke-width="1.6" stroke-linecap="butt"/>
<line x1="2038.36" y1="745.40" x2="2048.36" y2="745.40" stroke="#000" stroke-width="1.6" stroke-linecap="butt"/>
<path d="M1185.5,639.3l2.7,2.7 -2.7,2.7 -2.7,-2.7z" stroke="#000" stroke-width="0.8" stroke-linejoin="round"/>
<path d="M1185.5,750.1l2.7,2.7 -2.7,2.7 -2.7,-2.7z" stroke="#000" stroke-width="0.8" stroke-linejoin="round"/>
<path d="M1185.5,764.3l2.7,2.7 -2.7,2.7 -2.7,-2.7z" stroke="#000" stroke-width="0.8" stroke-linejoin="round"/>
<path d="M1181.0,816.7l2.7,2.7 -2.7,2.7 -2.7,-2.7z" stroke="#000" stroke-width="0.8" stroke-linejoin="round"/>
<path d="M1190.0,816.7l2.7,2.7 -2.7,2.7 -2.7,-2.7z" stroke="#000" stroke-width="0.8" stroke-linejoin="round"/>
<path d="M1185.5,827.3l2.7,2.7 -2.7,2.7 -2.7,-2.7z" stroke="#000" stroke-width="0.8" stroke-linejoin="round"/>
<path d="M1181.0,848.8l2.7,2.7 -2.7,2.7 -2.7,-2.7z" stroke="#000" stroke-width="0.8" stroke-linejoin="round"/>
<path d="M1190.0,848.8l2.7,2.7 -2.7,2.7 -2.7,-2.7z" stroke="#000" stroke-width="0.8" stroke-linejoin="round"/>
<path d="M1185.5,856.6l2.7,2.7 -2.7,2.7 -2.7,-2.7z" stroke="#000" stroke-width="0.8" stroke-linejoin="round"/>
<path d="M1185.5,873.7l2.7,2.7 -2.7,2.7 -2.7,-2.7z" stroke="#000" stroke-width="0.8" stroke-linejoin="round"/>
<path d="M1185.5,881.9l2.7,2.7 -2.7,2.7 -2.7,-2.7z" stroke="#000" stroke-width="0.8" stroke-linejoin="round"/>
<path d="M1209.2,730.5l2.7,2.7 -2.7,2.7 -2.7,-2.7z" stroke="#000" stroke-width="0.8" stroke-linejoin="round"/>
<path d="M1209.2,750.1l2.7,2.7 -2.7,2.7 -2.7,-2.7z" stroke="#000" stroke-width="0.8" stroke-linejoin="round"/>
<path d="M1209.2,802.5l2.7,2.7 -2.7,2.7 -2.7,-2.7z" stroke="#000" stroke-width="0.8" stroke-linejoin="round"/>
<path d="M1202.7,809.6l2.7,2.7 -2.7,2.7 -2.7,-2.7z" stroke="#000" stroke-width="0.8" stroke-linejoin="round"/>
<path d="M1209.2,809.6l2.7,2.7 -2.7,2.7 -2.7,-2.7z" stroke="#000" stroke-width="0.8" stroke-linejoin="round"/>
<path d="M1215.7,809.6l2.7,2.7 -2.7,2.7 -2.7,-2.7z" stroke="#000" stroke-width="0.8" stroke-linejoin="round"/>
<path d="M1209.2,827.3l2.7,2.7 -2.7,2.7 -2.7,-2.7z" stroke="#000" stroke-width="0.8" stroke-linejoin="round"/>
<path d="M1209.2,839.9l2.7,2.7 -2.7,2.7 -2.7,-2.7z" stroke="#000" stroke-width="0.8" stroke-linejoin="round"/>
<path d="M1209.2,844.2l2.7,2.7 -2.7,2.7 -2.7,-2.7z" stroke="#000" stroke-width="0.8" stroke-linejoin="round"/>
<path d="M1209.2,863.0l2.7,2.7 -2.7,2.7 -2.7,-2.7z" stroke="#000" stroke-width="0.8" stroke-linejoin="round"/>
<path d="M1209.2,877.3l2.7,2.7 -2.7,2.7 -2.7,-2.7z" stroke="#000" stroke-width="0.8" stroke-linejoin="round"/>
<path d="M1249.7,639.3l2.7,2.7 -2.7,2.7 -2.7,-2.7z" stroke="#000" stroke-width="0.8" stroke-linejoin="round"/>
<path d="M1242.7,690.3l2.7,2.7 -2.7,2.7 -2.7,-2.7z" stroke="#000" stroke-width="0.8" stroke-linejoin="round"/>
<path d="M1249.7,692.3l2.7,2.7 -2.7,2.7 -2.7,-2.7z" stroke="#000" stroke-width="0.8" stroke-linejoin="round"/>
<path d="M1255.7,695.6l2.7,2.7 -2.7,2.7 -2.7,-2.7z" stroke="#000" stroke-width="0.8" stroke-linejoin="round"/>
<path d="M1249.7,728.4l2.7,2.7 -2.7,2.7 -2.7,-2.7z" stroke="#000" stroke-width="0.8" stroke-linejoin="round"/>
<path d="M1249.7,810.7l2.7,2.7 -2.7,2.7 -2.7,-2.7z" stroke="#000" stroke-width="0.8" stroke-linejoin="round"/>
<path d="M1245.2,850.6l2.7,2.7 -2.7,2.7 -2.7,-2.7z" stroke="#000" stroke-width="0.8" stroke-linejoin="round"/>
<path d="M1254.2,850.6l2.7,2.7 -2.7,2.7 -2.7,-2.7z" stroke="#000" stroke-width="0.8" stroke-linejoin="round"/>
<path d="M1249.7,854.1l2.7,2.7 -2.7,2.7 -2.7,-2.7z" stroke="#000" stroke-width="0.8" stroke-linejoin="round"/>
<path d="M1243.2,878.0l2.7,2.7 -2.7,2.7 -2.7,-2.7z" stroke="#000" stroke-width="0.8" stroke-linejoin="round"/>
<path d="M1249.7,878.0l2.7,2.7 -2.7,2.7 -2.7,-2.7z" stroke="#000" stroke-width="0.8" stroke-linejoin="round"/>
<path d="M1256.2,878.0l2.7,2.7 -2.7,2.7 -2.7,-2.7z" stroke="#000" stroke-width="0.8" stroke-linejoin="round"/>
<path d="M1249.7,882.6l2.7,2.7 -2.7,2.7 -2.7,-2.7z" stroke="#000" stroke-width="0.8" stroke-linejoin="round"/>
<path d="M1273.3,678.6l2.7,2.7 -2.7,2.7 -2.7,-2.7z" stroke="#000" stroke-width="0.8" stroke-linejoin="round"/>
<path d="M1273.3,725.2l2.7,2.7 -2.7,2.7 -2.7,-2.7z" stroke="#000" stroke-width="0.8" stroke-linejoin="round"/>
<path d="M1273.3,742.7l2.7,2.7 -2.7,2.7 -2.7,-2.7z" stroke="#000" stroke-width="0.8" stroke-linejoin="round"/>
<path d="M1273.3,748.3l2.7,2.7 -2.7,2.7 -2.7,-2.7z" stroke="#000" stroke-width="0.8" stroke-linejoin="round"/>
<path d="M1273.3,751.9l2.7,2.7 -2.7,2.7 -2.7,-2.7z" stroke="#000" stroke-width="0.8" stroke-linejoin="round"/>
<path d="M1273.3,759.0l2.7,2.7 -2.7,2.7 -2.7,-2.7z" stroke="#000" stroke-width="0.8" stroke-linejoin="round"/>
<path d="M1273.3,766.2l2.7,2.7 -2.7,2.7 -2.7,-2.7z" stroke="#000" stroke-width="0.8" stroke-linejoin="round"/>
<path d="M1266.8,811.4l2.7,2.7 -2.7,2.7 -2.7,-2.7z" stroke="#000" stroke-width="0.8" stroke-linejoin="round"/>
<path d="M1273.3,811.4l2.7,2.7 -2.7,2.7 -2.7,-2.7z" stroke="#000" stroke-width="0.8" stroke-linejoin="round"/>
<path d="M1279.8,811.4l2.7,2.7 -2.7,2.7 -2.7,-2.7z" stroke="#000" stroke-width="0.8" stroke-linejoin="round"/>
<path d="M1273.3,835.3l2.7,2.7 -2.7,2.7 -2.7,-2.7z" stroke="#000" stroke-width="0.8" stroke-linejoin="round"/>
<path d="M1273.3,858.4l2.7,2.7 -2.7,2.7 -2.7,-2.7z" stroke="#000" stroke-width="0.8" stroke-linejoin="round"/>
<path d="M1273.3,880.8l2.7,2.7 -2.7,2.7 -2.7,-2.7z" stroke="#000" stroke-width="0.8" stroke-linejoin="round"/>
<path d="M1313.8,640.4l2.7,2.7 -2.7,2.7 -2.7,-2.7z" stroke="#000" stroke-width="0.8" stroke-linejoin="round"/>
<path d="M1313.8,682.1l2.7,2.7 -2.7,2.7 -2.7,-2.7z" stroke="#000" stroke-width="0.8" stroke-linejoin="round"/>
<path d="M1313.8,718.8l2.7,2.7 -2.7,2.7 -2.7,-2.7z" stroke="#000" stroke-width="0.8" stroke-linejoin="round"/>
<path d="M1313.8,739.5l2.7,2.7 -2.7,2.7 -2.7,-2.7z" stroke="#000" stroke-width="0.8" stroke-linejoin="round"/>
<path d="M1313.8,764.3l2.7,2.7 -2.7,2.7 -2.7,-2.7z" stroke="#000" stroke-width="0.8" stroke-linejoin="round"/>
<path d="M1313.8,810.7l2.7,2.7 -2.7,2.7 -2.7,-2.7z" stroke="#000" stroke-width="0.8" stroke-linejoin="round"/>
<path d="M1313.8,822.1l2.7,2.7 -2.7,2.7 -2.7,-2.7z" stroke="#000" stroke-width="0.8" stroke-linejoin="round"/>
<path d="M1313.8,833.8l2.7,2.7 -2.7,2.7 -2.7,-2.7z" stroke="#000" stroke-width="0.8" stroke-linejoin="round"/>
<path d="M1309.3,851.3l2.7,2.7 -2.7,2.7 -2.7,-2.7z" stroke="#000" stroke-width="0.8" stroke-linejoin="round"/>
<path d="M1318.3,851.3l2.7,2.7 -2.7,2.7 -2.7,-2.7z" stroke="#000" stroke-width="0.8" stroke-linejoin="round"/>
<path d="M1307.3,869.4l2.7,2.7 -2.7,2.7 -2.7,-2.7z" stroke="#000" stroke-width="0.8" stroke-linejoin="round"/>
<path d="M1313.8,869.4l2.7,2.7 -2.7,2.7 -2.7,-2.7z" stroke="#000" stroke-width="0.8" stroke-linejoin="round"/>
<path d="M1320.3,869.4l2.7,2.7 -2.7,2.7 -2.7,-2.7z" stroke="#000" stroke-width="0.8" stroke-linejoin="round"/>
<path d="M1337.5,673.2l2.7,2.7 -2.7,2.7 -2.7,-2.7z" stroke="#000" stroke-width="0.8" stroke-linejoin="round"/>
<path d="M1337.5,725.9l2.7,2.7 -2.7,2.7 -2.7,-2.7z" stroke="#000" stroke-width="0.8" stroke-linejoin="round"/>
<path d="M1337.5,731.3l2.7,2.7 -2.7,2.7 -2.7,-2.7z" stroke="#000" stroke-width="0.8" stroke-linejoin="round"/>
<path d="M1333.0,748.0l2.7,2.7 -2.7,2.7 -2.7,-2.7z" stroke="#000" stroke-width="0.8" stroke-linejoin="round"/>
<path d="M1342.0,748.0l2.7,2.7 -2.7,2.7 -2.7,-2.7z" stroke="#000" stroke-width="0.8" stroke-linejoin="round"/>
<path d="M1337.5,766.2l2.7,2.7 -2.7,2.7 -2.7,-2.7z" stroke="#000" stroke-width="0.8" stroke-linejoin="round"/>
<path d="M1337.5,770.4l2.7,2.7 -2.7,2.7 -2.7,-2.7z" stroke="#000" stroke-width="0.8" stroke-linejoin="round"/>
<path d="M1331.0,809.6l2.7,2.7 -2.7,2.7 -2.7,-2.7z" stroke="#000" stroke-width="0.8" stroke-linejoin="round"/>
<path d="M1337.5,809.6l2.7,2.7 -2.7,2.7 -2.7,-2.7z" stroke="#000" stroke-width="0.8" stroke-linejoin="round"/>
<path d="M1344.0,809.6l2.7,2.7 -2.7,2.7 -2.7,-2.7z" stroke="#000" stroke-width="0.8" stroke-linejoin="round"/>
<path d="M1333.0,860.2l2.7,2.7 -2.7,2.7 -2.7,-2.7z" stroke="#000" stroke-width="0.8" stroke-linejoin="round"/>
<path d="M1342.0,860.2l2.7,2.7 -2.7,2.7 -2.7,-2.7z" stroke="#000" stroke-width="0.8" stroke-linejoin="round"/>
<path d="M1337.5,880.8l2.7,2.7 -2.7,2.7 -2.7,-2.7z" stroke="#000" stroke-width="0.8" stroke-linejoin="round"/>
<path d="M1378.0,639.3l2.7,2.7 -2.7,2.7 -2.7,-2.7z" stroke="#000" stroke-width="0.8" stroke-linejoin="round"/>
<path d="M1378.0,701.0l2.7,2.7 -2.7,2.7 -2.7,-2.7z" stroke="#000" stroke-width="0.8" stroke-linejoin="round"/>
<path d="M1372.0,728.4l2.7,2.7 -2.7,2.7 -2.7,-2.7z" stroke="#000" stroke-width="0.8" stroke-linejoin="round"/>
<path d="M1383.0,732.0l2.7,2.7 -2.7,2.7 -2.7,-2.7z" stroke="#000" stroke-width="0.8" stroke-linejoin="round"/>
<path d="M1373.5,759.0l2.7,2.7 -2.7,2.7 -2.7,-2.7z" stroke="#000" stroke-width="0.8" stroke-linejoin="round"/>
<path d="M1382.5,759.0l2.7,2.7 -2.7,2.7 -2.7,-2.7z" stroke="#000" stroke-width="0.8" stroke-linejoin="round"/>
<path d="M1378.0,762.6l2.7,2.7 -2.7,2.7 -2.7,-2.7z" stroke="#000" stroke-width="0.8" stroke-linejoin="round"/>
<path d="M1378.0,791.1l2.7,2.7 -2.7,2.7 -2.7,-2.7z" stroke="#000" stroke-width="0.8" stroke-linejoin="round"/>
<path d="M1378.0,844.5l2.7,2.7 -2.7,2.7 -2.7,-2.7z" stroke="#000" stroke-width="0.8" stroke-linejoin="round"/>
<path d="M1373.5,873.7l2.7,2.7 -2.7,2.7 -2.7,-2.7z" stroke="#000" stroke-width="0.8" stroke-linejoin="round"/>
<path d="M1382.5,873.7l2.7,2.7 -2.7,2.7 -2.7,-2.7z" stroke="#000" stroke-width="0.8" stroke-linejoin="round"/>
<path d="M1373.5,881.9l2.7,2.7 -2.7,2.7 -2.7,-2.7z" stroke="#000" stroke-width="0.8" stroke-linejoin="round"/>
<path d="M1382.5,881.9l2.7,2.7 -2.7,2.7 -2.7,-2.7z" stroke="#000" stroke-width="0.8" stroke-linejoin="round"/>
<path d="M1401.7,660.0l2.7,2.7 -2.7,2.7 -2.7,-2.7z" stroke="#000" stroke-width="0.8" stroke-linejoin="round"/>
<path d="M1401.7,740.2l2.7,2.7 -2.7,2.7 -2.7,-2.7z" stroke="#000" stroke-width="0.8" stroke-linejoin="round"/>
<path d="M1401.7,743.7l2.7,2.7 -2.7,2.7 -2.7,-2.7z" stroke="#000" stroke-width="0.8" stroke-linejoin="round"/>
<path d="M1401.7,750.8l2.7,2.7 -2.7,2.7 -2.7,-2.7z" stroke="#000" stroke-width="0.8" stroke-linejoin="round"/>
<path d="M1397.2,760.8l2.7,2.7 -2.7,2.7 -2.7,-2.7z" stroke="#000" stroke-width="0.8" stroke-linejoin="round"/>
<path d="M1406.2,760.8l2.7,2.7 -2.7,2.7 -2.7,-2.7z" stroke="#000" stroke-width="0.8" stroke-linejoin="round"/>
<path d="M1397.2,777.6l2.7,2.7 -2.7,2.7 -2.7,-2.7z" stroke="#000" stroke-width="0.8" stroke-linejoin="round"/>
<path d="M1406.2,777.6l2.7,2.7 -2.7,2.7 -2.7,-2.7z" stroke="#000" stroke-width="0.8" stroke-linejoin="round"/>
<path d="M1401.7,809.6l2.7,2.7 -2.7,2.7 -2.7,-2.7z" stroke="#000" stroke-width="0.8" stroke-linejoin="round"/>
<path d="M1401.7,811.4l2.7,2.7 -2.7,2.7 -2.7,-2.7z" stroke="#000" stroke-width="0.8" stroke-linejoin="round"/>
<path d="M1401.7,838.1l2.7,2.7 -2.7,2.7 -2.7,-2.7z" stroke="#000" stroke-width="0.8" stroke-linejoin="round"/>
<path d="M1401.7,861.3l2.7,2.7 -2.7,2.7 -2.7,-2.7z" stroke="#000" stroke-width="0.8" stroke-linejoin="round"/>
<path d="M1442.2,715.3l2.7,2.7 -2.7,2.7 -2.7,-2.7z" stroke="#000" stroke-width="0.8" stroke-linejoin="round"/>
<path d="M1442.2,732.0l2.7,2.7 -2.7,2.7 -2.7,-2.7z" stroke="#000" stroke-width="0.8" stroke-linejoin="round"/>
<path d="M1435.7,759.0l2.7,2.7 -2.7,2.7 -2.7,-2.7z" stroke="#000" stroke-width="0.8" stroke-linejoin="round"/>
<path d="M1442.2,759.0l2.7,2.7 -2.7,2.7 -2.7,-2.7z" stroke="#000" stroke-width="0.8" stroke-linejoin="round"/>
<path d="M1448.7,759.0l2.7,2.7 -2.7,2.7 -2.7,-2.7z" stroke="#000" stroke-width="0.8" stroke-linejoin="round"/>
<path d="M1442.2,761.5l2.7,2.7 -2.7,2.7 -2.7,-2.7z" stroke="#000" stroke-width="0.8" stroke-linejoin="round"/>
<path d="M1437.7,778.6l2.7,2.7 -2.7,2.7 -2.7,-2.7z" stroke="#000" stroke-width="0.8" stroke-linejoin="round"/>
<path d="M1446.7,778.6l2.7,2.7 -2.7,2.7 -2.7,-2.7z" stroke="#000" stroke-width="0.8" stroke-linejoin="round"/>
<path d="M1442.2,810.3l2.7,2.7 -2.7,2.7 -2.7,-2.7z" stroke="#000" stroke-width="0.8" stroke-linejoin="round"/>
<path d="M1437.7,879.1l2.7,2.7 -2.7,2.7 -2.7,-2.7z" stroke="#000" stroke-width="0.8" stroke-linejoin="round"/>
<path d="M1446.7,879.1l2.7,2.7 -2.7,2.7 -2.7,-2.7z" stroke="#000" stroke-width="0.8" stroke-linejoin="round"/>
<path d="M1465.8,706.3l2.7,2.7 -2.7,2.7 -2.7,-2.7z" stroke="#000" stroke-width="0.8" stroke-linejoin="round"/>
<path d="M1461.3,725.9l2.7,2.7 -2.7,2.7 -2.7,-2.7z" stroke="#000" stroke-width="0.8" stroke-linejoin="round"/>
<path d="M1470.3,725.9l2.7,2.7 -2.7,2.7 -2.7,-2.7z" stroke="#000" stroke-width="0.8" stroke-linejoin="round"/>
<path d="M1461.3,734.8l2.7,2.7 -2.7,2.7 -2.7,-2.7z" stroke="#000" stroke-width="0.8" stroke-linejoin="round"/>
<path d="M1470.3,734.8l2.7,2.7 -2.7,2.7 -2.7,-2.7z" stroke="#000" stroke-width="0.8" stroke-linejoin="round"/>
<path d="M1465.8,743.7l2.7,2.7 -2.7,2.7 -2.7,-2.7z" stroke="#000" stroke-width="0.8" stroke-linejoin="round"/>
<path d="M1459.3,750.8l2.7,2.7 -2.7,2.7 -2.7,-2.7z" stroke="#000" stroke-width="0.8" stroke-linejoin="round"/>
<path d="M1465.8,750.8l2.7,2.7 -2.7,2.7 -2.7,-2.7z" stroke="#000" stroke-width="0.8" stroke-linejoin="round"/>
<path d="M1472.3,750.8l2.7,2.7 -2.7,2.7 -2.7,-2.7z" stroke="#000" stroke-width="0.8" stroke-linejoin="round"/>
<path d="M1465.8,761.5l2.7,2.7 -2.7,2.7 -2.7,-2.7z" stroke="#000" stroke-width="0.8" stroke-linejoin="round"/>
<path d="M1461.3,781.1l2.7,2.7 -2.7,2.7 -2.7,-2.7z" stroke="#000" stroke-width="0.8" stroke-linejoin="round"/>
<path d="M1470.3,781.1l2.7,2.7 -2.7,2.7 -2.7,-2.7z" stroke="#000" stroke-width="0.8" stroke-linejoin="round"/>
<path d="M1465.8,811.4l2.7,2.7 -2.7,2.7 -2.7,-2.7z" stroke="#000" stroke-width="0.8" stroke-linejoin="round"/>
<path d="M1506.3,717.0l2.7,2.7 -2.7,2.7 -2.7,-2.7z" stroke="#000" stroke-width="0.8" stroke-linejoin="round"/>
<path d="M1506.3,725.9l2.7,2.7 -2.7,2.7 -2.7,-2.7z" stroke="#000" stroke-width="0.8" stroke-linejoin="round"/>
<path d="M1501.8,750.1l2.7,2.7 -2.7,2.7 -2.7,-2.7z" stroke="#000" stroke-width="0.8" stroke-linejoin="round"/>
<path d="M1510.8,750.1l2.7,2.7 -2.7,2.7 -2.7,-2.7z" stroke="#000" stroke-width="0.8" stroke-linejoin="round"/>
<path d="M1506.3,758.0l2.7,2.7 -2.7,2.7 -2.7,-2.7z" stroke="#000" stroke-width="0.8" stroke-linejoin="round"/>
<path d="M1501.8,766.2l2.7,2.7 -2.7,2.7 -2.7,-2.7z" stroke="#000" stroke-width="0.8" stroke-linejoin="round"/>
<path d="M1510.8,766.2l2.7,2.7 -2.7,2.7 -2.7,-2.7z" stroke="#000" stroke-width="0.8" stroke-linejoin="round"/>
<path d="M1506.3,774.0l2.7,2.7 -2.7,2.7 -2.7,-2.7z" stroke="#000" stroke-width="0.8" stroke-linejoin="round"/>
<path d="M1506.3,789.3l2.7,2.7 -2.7,2.7 -2.7,-2.7z" stroke="#000" stroke-width="0.8" stroke-linejoin="round"/>
<path d="M1506.3,806.0l2.7,2.7 -2.7,2.7 -2.7,-2.7z" stroke="#000" stroke-width="0.8" stroke-linejoin="round"/>
<path d="M1506.3,809.6l2.7,2.7 -2.7,2.7 -2.7,-2.7z" stroke="#000" stroke-width="0.8" stroke-linejoin="round"/>
<path d="M1506.3,866.6l2.7,2.7 -2.7,2.7 -2.7,-2.7z" stroke="#000" stroke-width="0.8" stroke-linejoin="round"/>
<path d="M1506.3,880.8l2.7,2.7 -2.7,2.7 -2.7,-2.7z" stroke="#000" stroke-width="0.8" stroke-linejoin="round"/>
<path d="M1525.5,710.6l2.7,2.7 -2.7,2.7 -2.7,-2.7z" stroke="#000" stroke-width="0.8" stroke-linejoin="round"/>
<path d="M1534.5,710.6l2.7,2.7 -2.7,2.7 -2.7,-2.7z" stroke="#000" stroke-width="0.8" stroke-linejoin="round"/>
<path d="M1530.0,718.8l2.7,2.7 -2.7,2.7 -2.7,-2.7z" stroke="#000" stroke-width="0.8" stroke-linejoin="round"/>
<path d="M1530.0,731.3l2.7,2.7 -2.7,2.7 -2.7,-2.7z" stroke="#000" stroke-width="0.8" stroke-linejoin="round"/>
<path d="M1523.5,739.1l2.7,2.7 -2.7,2.7 -2.7,-2.7z" stroke="#000" stroke-width="0.8" stroke-linejoin="round"/>
<path d="M1530.0,739.1l2.7,2.7 -2.7,2.7 -2.7,-2.7z" stroke="#000" stroke-width="0.8" stroke-linejoin="round"/>
<path d="M1536.5,739.1l2.7,2.7 -2.7,2.7 -2.7,-2.7z" stroke="#000" stroke-width="0.8" stroke-linejoin="round"/>
<path d="M1530.0,742.7l2.7,2.7 -2.7,2.7 -2.7,-2.7z" stroke="#000" stroke-width="0.8" stroke-linejoin="round"/>
<path d="M1530.0,758.0l2.7,2.7 -2.7,2.7 -2.7,-2.7z" stroke="#000" stroke-width="0.8" stroke-linejoin="round"/>
<path d="M1530.0,766.9l2.7,2.7 -2.7,2.7 -2.7,-2.7z" stroke="#000" stroke-width="0.8" stroke-linejoin="round"/>
<path d="M1530.0,776.8l2.7,2.7 -2.7,2.7 -2.7,-2.7z" stroke="#000" stroke-width="0.8" stroke-linejoin="round"/>
<path d="M1530.0,811.4l2.7,2.7 -2.7,2.7 -2.7,-2.7z" stroke="#000" stroke-width="0.8" stroke-linejoin="round"/>
<path d="M1570.5,734.8l2.7,2.7 -2.7,2.7 -2.7,-2.7z" stroke="#000" stroke-width="0.8" stroke-linejoin="round"/>
<path d="M1564.0,743.7l2.7,2.7 -2.7,2.7 -2.7,-2.7z" stroke="#000" stroke-width="0.8" stroke-linejoin="round"/>
<path d="M1570.5,743.7l2.7,2.7 -2.7,2.7 -2.7,-2.7z" stroke="#000" stroke-width="0.8" stroke-linejoin="round"/>
<path d="M1577.0,743.7l2.7,2.7 -2.7,2.7 -2.7,-2.7z" stroke="#000" stroke-width="0.8" stroke-linejoin="round"/>
<path d="M1564.0,752.6l2.7,2.7 -2.7,2.7 -2.7,-2.7z" stroke="#000" stroke-width="0.8" stroke-linejoin="round"/>
<path d="M1570.5,752.6l2.7,2.7 -2.7,2.7 -2.7,-2.7z" stroke="#000" stroke-width="0.8" stroke-linejoin="round"/>
<path d="M1577.0,752.6l2.7,2.7 -2.7,2.7 -2.7,-2.7z" stroke="#000" stroke-width="0.8" stroke-linejoin="round"/>
<path d="M1570.5,759.8l2.7,2.7 -2.7,2.7 -2.7,-2.7z" stroke="#000" stroke-width="0.8" stroke-linejoin="round"/>
<path d="M1570.5,774.0l2.7,2.7 -2.7,2.7 -2.7,-2.7z" stroke="#000" stroke-width="0.8" stroke-linejoin="round"/>
<path d="M1570.5,799.6l2.7,2.7 -2.7,2.7 -2.7,-2.7z" stroke="#000" stroke-width="0.8" stroke-linejoin="round"/>
<path d="M1570.5,809.6l2.7,2.7 -2.7,2.7 -2.7,-2.7z" stroke="#000" stroke-width="0.8" stroke-linejoin="round"/>
<path d="M1570.5,823.1l2.7,2.7 -2.7,2.7 -2.7,-2.7z" stroke="#000" stroke-width="0.8" stroke-linejoin="round"/>
<path d="M1570.5,855.9l2.7,2.7 -2.7,2.7 -2.7,-2.7z" stroke="#000" stroke-width="0.8" stroke-linejoin="round"/>
<path d="M1570.5,870.9l2.7,2.7 -2.7,2.7 -2.7,-2.7z" stroke="#000" stroke-width="0.8" stroke-linejoin="round"/>
<path d="M1589.7,707.0l2.7,2.7 -2.7,2.7 -2.7,-2.7z" stroke="#000" stroke-width="0.8" stroke-linejoin="round"/>
<path d="M1598.7,707.0l2.7,2.7 -2.7,2.7 -2.7,-2.7z" stroke="#000" stroke-width="0.8" stroke-linejoin="round"/>
<path d="M1594.2,715.2l2.7,2.7 -2.7,2.7 -2.7,-2.7z" stroke="#000" stroke-width="0.8" stroke-linejoin="round"/>
<path d="M1589.7,724.1l2.7,2.7 -2.7,2.7 -2.7,-2.7z" stroke="#000" stroke-width="0.8" stroke-linejoin="round"/>
<path d="M1598.7,724.1l2.7,2.7 -2.7,2.7 -2.7,-2.7z" stroke="#000" stroke-width="0.8" stroke-linejoin="round"/>
<path d="M1594.2,734.8l2.7,2.7 -2.7,2.7 -2.7,-2.7z" stroke="#000" stroke-width="0.8" stroke-linejoin="round"/>
<path d="M1587.7,740.2l2.7,2.7 -2.7,2.7 -2.7,-2.7z" stroke="#000" stroke-width="0.8" stroke-linejoin="round"/>
<path d="M1594.2,740.2l2.7,2.7 -2.7,2.7 -2.7,-2.7z" stroke="#000" stroke-width="0.8" stroke-linejoin="round"/>
<path d="M1600.7,740.2l2.7,2.7 -2.7,2.7 -2.7,-2.7z" stroke="#000" stroke-width="0.8" stroke-linejoin="round"/>
<path d="M1594.2,751.9l2.7,2.7 -2.7,2.7 -2.7,-2.7z" stroke="#000" stroke-width="0.8" stroke-linejoin="round"/>
<path d="M1594.2,759.0l2.7,2.7 -2.7,2.7 -2.7,-2.7z" stroke="#000" stroke-width="0.8" stroke-linejoin="round"/>
<path d="M1594.2,775.1l2.7,2.7 -2.7,2.7 -2.7,-2.7z" stroke="#000" stroke-width="0.8" stroke-linejoin="round"/>
<path d="M1594.2,810.3l2.7,2.7 -2.7,2.7 -2.7,-2.7z" stroke="#000" stroke-width="0.8" stroke-linejoin="round"/>
<path d="M1630.2,744.8l2.7,2.7 -2.7,2.7 -2.7,-2.7z" stroke="#000" stroke-width="0.8" stroke-linejoin="round"/>
<path d="M1639.2,744.8l2.7,2.7 -2.7,2.7 -2.7,-2.7z" stroke="#000" stroke-width="0.8" stroke-linejoin="round"/>
<path d="M1640.7,747.3l2.7,2.7 -2.7,2.7 -2.7,-2.7z" stroke="#000" stroke-width="0.8" stroke-linejoin="round"/>
<path d="M1628.2,752.6l2.7,2.7 -2.7,2.7 -2.7,-2.7z" stroke="#000" stroke-width="0.8" stroke-linejoin="round"/>
<path d="M1634.7,752.6l2.7,2.7 -2.7,2.7 -2.7,-2.7z" stroke="#000" stroke-width="0.8" stroke-linejoin="round"/>
<path d="M1641.2,752.6l2.7,2.7 -2.7,2.7 -2.7,-2.7z" stroke="#000" stroke-width="0.8" stroke-linejoin="round"/>
<path d="M1634.7,776.5l2.7,2.7 -2.7,2.7 -2.7,-2.7z" stroke="#000" stroke-width="0.8" stroke-linejoin="round"/>
<path d="M1630.2,788.3l2.7,2.7 -2.7,2.7 -2.7,-2.7z" stroke="#000" stroke-width="0.8" stroke-linejoin="round"/>
<path d="M1639.2,788.3l2.7,2.7 -2.7,2.7 -2.7,-2.7z" stroke="#000" stroke-width="0.8" stroke-linejoin="round"/>
<path d="M1634.7,805.3l2.7,2.7 -2.7,2.7 -2.7,-2.7z" stroke="#000" stroke-width="0.8" stroke-linejoin="round"/>
<path d="M1634.7,868.3l2.7,2.7 -2.7,2.7 -2.7,-2.7z" stroke="#000" stroke-width="0.8" stroke-linejoin="round"/>
<path d="M1634.7,877.3l2.7,2.7 -2.7,2.7 -2.7,-2.7z" stroke="#000" stroke-width="0.8" stroke-linejoin="round"/>
<path d="M1653.8,702.8l2.7,2.7 -2.7,2.7 -2.7,-2.7z" stroke="#000" stroke-width="0.8" stroke-linejoin="round"/>
<path d="M1662.8,702.8l2.7,2.7 -2.7,2.7 -2.7,-2.7z" stroke="#000" stroke-width="0.8" stroke-linejoin="round"/>
<path d="M1653.8,713.5l2.7,2.7 -2.7,2.7 -2.7,-2.7z" stroke="#000" stroke-width="0.8" stroke-linejoin="round"/>
<path d="M1662.8,713.5l2.7,2.7 -2.7,2.7 -2.7,-2.7z" stroke="#000" stroke-width="0.8" stroke-linejoin="round"/>
<path d="M1653.8,720.6l2.7,2.7 -2.7,2.7 -2.7,-2.7z" stroke="#000" stroke-width="0.8" stroke-linejoin="round"/>
<path d="M1662.8,720.6l2.7,2.7 -2.7,2.7 -2.7,-2.7z" stroke="#000" stroke-width="0.8" stroke-linejoin="round"/>
<path d="M1658.3,731.3l2.7,2.7 -2.7,2.7 -2.7,-2.7z" stroke="#000" stroke-width="0.8" stroke-linejoin="round"/>
<path d="M1653.8,736.6l2.7,2.7 -2.7,2.7 -2.7,-2.7z" stroke="#000" stroke-width="0.8" stroke-linejoin="round"/>
<path d="M1662.8,736.6l2.7,2.7 -2.7,2.7 -2.7,-2.7z" stroke="#000" stroke-width="0.8" stroke-linejoin="round"/>
<path d="M1658.3,745.5l2.7,2.7 -2.7,2.7 -2.7,-2.7z" stroke="#000" stroke-width="0.8" stroke-linejoin="round"/>
<path d="M1653.8,768.7l2.7,2.7 -2.7,2.7 -2.7,-2.7z" stroke="#000" stroke-width="0.8" stroke-linejoin="round"/>
<path d="M1662.8,768.7l2.7,2.7 -2.7,2.7 -2.7,-2.7z" stroke="#000" stroke-width="0.8" stroke-linejoin="round"/>
<path d="M1658.3,810.7l2.7,2.7 -2.7,2.7 -2.7,-2.7z" stroke="#000" stroke-width="0.8" stroke-linejoin="round"/>
<path d="M1698.9,733.0l2.7,2.7 -2.7,2.7 -2.7,-2.7z" stroke="#000" stroke-width="0.8" stroke-linejoin="round"/>
<path d="M1703.9,739.5l2.7,2.7 -2.7,2.7 -2.7,-2.7z" stroke="#000" stroke-width="0.8" stroke-linejoin="round"/>
<path d="M1692.9,742.7l2.7,2.7 -2.7,2.7 -2.7,-2.7z" stroke="#000" stroke-width="0.8" stroke-linejoin="round"/>
<path d="M1692.9,751.9l2.7,2.7 -2.7,2.7 -2.7,-2.7z" stroke="#000" stroke-width="0.8" stroke-linejoin="round"/>
<path d="M1694.4,756.2l2.7,2.7 -2.7,2.7 -2.7,-2.7z" stroke="#000" stroke-width="0.8" stroke-linejoin="round"/>
<path d="M1703.4,756.2l2.7,2.7 -2.7,2.7 -2.7,-2.7z" stroke="#000" stroke-width="0.8" stroke-linejoin="round"/>
<path d="M1698.9,763.3l2.7,2.7 -2.7,2.7 -2.7,-2.7z" stroke="#000" stroke-width="0.8" stroke-linejoin="round"/>
<path d="M1698.9,789.3l2.7,2.7 -2.7,2.7 -2.7,-2.7z" stroke="#000" stroke-width="0.8" stroke-linejoin="round"/>
<path d="M1698.9,799.6l2.7,2.7 -2.7,2.7 -2.7,-2.7z" stroke="#000" stroke-width="0.8" stroke-linejoin="round"/>
<path d="M1698.9,810.3l2.7,2.7 -2.7,2.7 -2.7,-2.7z" stroke="#000" stroke-width="0.8" stroke-linejoin="round"/>
<path d="M1694.4,823.1l2.7,2.7 -2.7,2.7 -2.7,-2.7z" stroke="#000" stroke-width="0.8" stroke-linejoin="round"/>
<path d="M1703.4,823.1l2.7,2.7 -2.7,2.7 -2.7,-2.7z" stroke="#000" stroke-width="0.8" stroke-linejoin="round"/>
<path d="M1722.5,705.6l2.7,2.7 -2.7,2.7 -2.7,-2.7z" stroke="#000" stroke-width="0.8" stroke-linejoin="round"/>
<path d="M1716.0,712.7l2.7,2.7 -2.7,2.7 -2.7,-2.7z" stroke="#000" stroke-width="0.8" stroke-linejoin="round"/>
<path d="M1722.5,712.7l2.7,2.7 -2.7,2.7 -2.7,-2.7z" stroke="#000" stroke-width="0.8" stroke-linejoin="round"/>
<path d="M1729.0,712.7l2.7,2.7 -2.7,2.7 -2.7,-2.7z" stroke="#000" stroke-width="0.8" stroke-linejoin="round"/>
<path d="M1718.0,722.3l2.7,2.7 -2.7,2.7 -2.7,-2.7z" stroke="#000" stroke-width="0.8" stroke-linejoin="round"/>
<path d="M1727.0,722.3l2.7,2.7 -2.7,2.7 -2.7,-2.7z" stroke="#000" stroke-width="0.8" stroke-linejoin="round"/>
<path d="M1718.0,732.0l2.7,2.7 -2.7,2.7 -2.7,-2.7z" stroke="#000" stroke-width="0.8" stroke-linejoin="round"/>
<path d="M1727.0,732.0l2.7,2.7 -2.7,2.7 -2.7,-2.7z" stroke="#000" stroke-width="0.8" stroke-linejoin="round"/>
<path d="M1722.5,752.6l2.7,2.7 -2.7,2.7 -2.7,-2.7z" stroke="#000" stroke-width="0.8" stroke-linejoin="round"/>
<path d="M1718.0,768.7l2.7,2.7 -2.7,2.7 -2.7,-2.7z" stroke="#000" stroke-width="0.8" stroke-linejoin="round"/>
<path d="M1727.0,768.7l2.7,2.7 -2.7,2.7 -2.7,-2.7z" stroke="#000" stroke-width="0.8" stroke-linejoin="round"/>
<path d="M1722.5,810.7l2.7,2.7 -2.7,2.7 -2.7,-2.7z" stroke="#000" stroke-width="0.8" stroke-linejoin="round"/>
<path d="M1763.0,736.6l2.7,2.7 -2.7,2.7 -2.7,-2.7z" stroke="#000" stroke-width="0.8" stroke-linejoin="round"/>
<path d="M1758.5,745.5l2.7,2.7 -2.7,2.7 -2.7,-2.7z" stroke="#000" stroke-width="0.8" stroke-linejoin="round"/>
<path d="M1767.5,745.5l2.7,2.7 -2.7,2.7 -2.7,-2.7z" stroke="#000" stroke-width="0.8" stroke-linejoin="round"/>
<path d="M1763.0,750.8l2.7,2.7 -2.7,2.7 -2.7,-2.7z" stroke="#000" stroke-width="0.8" stroke-linejoin="round"/>
<path d="M1756.5,757.3l2.7,2.7 -2.7,2.7 -2.7,-2.7z" stroke="#000" stroke-width="0.8" stroke-linejoin="round"/>
<path d="M1763.0,757.3l2.7,2.7 -2.7,2.7 -2.7,-2.7z" stroke="#000" stroke-width="0.8" stroke-linejoin="round"/>
<path d="M1769.5,757.3l2.7,2.7 -2.7,2.7 -2.7,-2.7z" stroke="#000" stroke-width="0.8" stroke-linejoin="round"/>
<path d="M1763.0,768.7l2.7,2.7 -2.7,2.7 -2.7,-2.7z" stroke="#000" stroke-width="0.8" stroke-linejoin="round"/>
<path d="M1758.5,775.8l2.7,2.7 -2.7,2.7 -2.7,-2.7z" stroke="#000" stroke-width="0.8" stroke-linejoin="round"/>
<path d="M1767.5,775.8l2.7,2.7 -2.7,2.7 -2.7,-2.7z" stroke="#000" stroke-width="0.8" stroke-linejoin="round"/>
<path d="M1763.0,780.4l2.7,2.7 -2.7,2.7 -2.7,-2.7z" stroke="#000" stroke-width="0.8" stroke-linejoin="round"/>
<path d="M1763.0,789.3l2.7,2.7 -2.7,2.7 -2.7,-2.7z" stroke="#000" stroke-width="0.8" stroke-linejoin="round"/>
<path d="M1763.0,810.3l2.7,2.7 -2.7,2.7 -2.7,-2.7z" stroke="#000" stroke-width="0.8" stroke-linejoin="round"/>
<path d="M1763.0,868.4l2.7,2.7 -2.7,2.7 -2.7,-2.7z" stroke="#000" stroke-width="0.8" stroke-linejoin="round"/>
<path d="M1786.7,697.4l2.7,2.7 -2.7,2.7 -2.7,-2.7z" stroke="#000" stroke-width="0.8" stroke-linejoin="round"/>
<path d="M1786.7,702.1l2.7,2.7 -2.7,2.7 -2.7,-2.7z" stroke="#000" stroke-width="0.8" stroke-linejoin="round"/>
<path d="M1782.2,710.6l2.7,2.7 -2.7,2.7 -2.7,-2.7z" stroke="#000" stroke-width="0.8" stroke-linejoin="round"/>
<path d="M1791.2,710.6l2.7,2.7 -2.7,2.7 -2.7,-2.7z" stroke="#000" stroke-width="0.8" stroke-linejoin="round"/>
<path d="M1782.2,722.3l2.7,2.7 -2.7,2.7 -2.7,-2.7z" stroke="#000" stroke-width="0.8" stroke-linejoin="round"/>
<path d="M1791.2,722.3l2.7,2.7 -2.7,2.7 -2.7,-2.7z" stroke="#000" stroke-width="0.8" stroke-linejoin="round"/>
<path d="M1782.2,729.5l2.7,2.7 -2.7,2.7 -2.7,-2.7z" stroke="#000" stroke-width="0.8" stroke-linejoin="round"/>
<path d="M1791.2,729.5l2.7,2.7 -2.7,2.7 -2.7,-2.7z" stroke="#000" stroke-width="0.8" stroke-linejoin="round"/>
<path d="M1786.7,745.5l2.7,2.7 -2.7,2.7 -2.7,-2.7z" stroke="#000" stroke-width="0.8" stroke-linejoin="round"/>
<path d="M1786.7,756.2l2.7,2.7 -2.7,2.7 -2.7,-2.7z" stroke="#000" stroke-width="0.8" stroke-linejoin="round"/>
<path d="M1786.7,767.9l2.7,2.7 -2.7,2.7 -2.7,-2.7z" stroke="#000" stroke-width="0.8" stroke-linejoin="round"/>
<path d="M1786.7,810.3l2.7,2.7 -2.7,2.7 -2.7,-2.7z" stroke="#000" stroke-width="0.8" stroke-linejoin="round"/>
<path d="M1786.7,831.0l2.7,2.7 -2.7,2.7 -2.7,-2.7z" stroke="#000" stroke-width="0.8" stroke-linejoin="round"/>
<path d="M1827.2,725.9l2.7,2.7 -2.7,2.7 -2.7,-2.7z" stroke="#000" stroke-width="0.8" stroke-linejoin="round"/>
<path d="M1822.7,739.5l2.7,2.7 -2.7,2.7 -2.7,-2.7z" stroke="#000" stroke-width="0.8" stroke-linejoin="round"/>
<path d="M1831.7,739.5l2.7,2.7 -2.7,2.7 -2.7,-2.7z" stroke="#000" stroke-width="0.8" stroke-linejoin="round"/>
<path d="M1820.7,756.2l2.7,2.7 -2.7,2.7 -2.7,-2.7z" stroke="#000" stroke-width="0.8" stroke-linejoin="round"/>
<path d="M1827.2,756.2l2.7,2.7 -2.7,2.7 -2.7,-2.7z" stroke="#000" stroke-width="0.8" stroke-linejoin="round"/>
<path d="M1833.7,756.2l2.7,2.7 -2.7,2.7 -2.7,-2.7z" stroke="#000" stroke-width="0.8" stroke-linejoin="round"/>
<path d="M1822.7,761.5l2.7,2.7 -2.7,2.7 -2.7,-2.7z" stroke="#000" stroke-width="0.8" stroke-linejoin="round"/>
<path d="M1831.7,761.5l2.7,2.7 -2.7,2.7 -2.7,-2.7z" stroke="#000" stroke-width="0.8" stroke-linejoin="round"/>
<path d="M1827.2,789.3l2.7,2.7 -2.7,2.7 -2.7,-2.7z" stroke="#000" stroke-width="0.8" stroke-linejoin="round"/>
<path d="M1827.2,805.3l2.7,2.7 -2.7,2.7 -2.7,-2.7z" stroke="#000" stroke-width="0.8" stroke-linejoin="round"/>
<path d="M1822.7,809.6l2.7,2.7 -2.7,2.7 -2.7,-2.7z" stroke="#000" stroke-width="0.8" stroke-linejoin="round"/>
<path d="M1831.7,809.6l2.7,2.7 -2.7,2.7 -2.7,-2.7z" stroke="#000" stroke-width="0.8" stroke-linejoin="round"/>
<path d="M1827.2,822.1l2.7,2.7 -2.7,2.7 -2.7,-2.7z" stroke="#000" stroke-width="0.8" stroke-linejoin="round"/>
<path d="M1846.4,698.5l2.7,2.7 -2.7,2.7 -2.7,-2.7z" stroke="#000" stroke-width="0.8" stroke-linejoin="round"/>
<path d="M1855.4,698.5l2.7,2.7 -2.7,2.7 -2.7,-2.7z" stroke="#000" stroke-width="0.8" stroke-linejoin="round"/>
<path d="M1850.9,702.8l2.7,2.7 -2.7,2.7 -2.7,-2.7z" stroke="#000" stroke-width="0.8" stroke-linejoin="round"/>
<path d="M1844.4,711.7l2.7,2.7 -2.7,2.7 -2.7,-2.7z" stroke="#000" stroke-width="0.8" stroke-linejoin="round"/>
<path d="M1850.9,711.7l2.7,2.7 -2.7,2.7 -2.7,-2.7z" stroke="#000" stroke-width="0.8" stroke-linejoin="round"/>
<path d="M1857.4,711.7l2.7,2.7 -2.7,2.7 -2.7,-2.7z" stroke="#000" stroke-width="0.8" stroke-linejoin="round"/>
<path d="M1850.9,720.6l2.7,2.7 -2.7,2.7 -2.7,-2.7z" stroke="#000" stroke-width="0.8" stroke-linejoin="round"/>
<path d="M1846.4,725.9l2.7,2.7 -2.7,2.7 -2.7,-2.7z" stroke="#000" stroke-width="0.8" stroke-linejoin="round"/>
<path d="M1855.4,725.9l2.7,2.7 -2.7,2.7 -2.7,-2.7z" stroke="#000" stroke-width="0.8" stroke-linejoin="round"/>
<path d="M1850.9,747.3l2.7,2.7 -2.7,2.7 -2.7,-2.7z" stroke="#000" stroke-width="0.8" stroke-linejoin="round"/>
<path d="M1850.9,761.5l2.7,2.7 -2.7,2.7 -2.7,-2.7z" stroke="#000" stroke-width="0.8" stroke-linejoin="round"/>
<path d="M1850.9,767.9l2.7,2.7 -2.7,2.7 -2.7,-2.7z" stroke="#000" stroke-width="0.8" stroke-linejoin="round"/>
<path d="M1850.9,810.3l2.7,2.7 -2.7,2.7 -2.7,-2.7z" stroke="#000" stroke-width="0.8" stroke-linejoin="round"/>
<path d="M1850.9,854.8l2.7,2.7 -2.7,2.7 -2.7,-2.7z" stroke="#000" stroke-width="0.8" stroke-linejoin="round"/>
<path d="M1884.9,742.7l2.7,2.7 -2.7,2.7 -2.7,-2.7z" stroke="#000" stroke-width="0.8" stroke-linejoin="round"/>
<path d="M1891.4,742.7l2.7,2.7 -2.7,2.7 -2.7,-2.7z" stroke="#000" stroke-width="0.8" stroke-linejoin="round"/>
<path d="M1897.9,742.7l2.7,2.7 -2.7,2.7 -2.7,-2.7z" stroke="#000" stroke-width="0.8" stroke-linejoin="round"/>
<path d="M1891.4,746.2l2.7,2.7 -2.7,2.7 -2.7,-2.7z" stroke="#000" stroke-width="0.8" stroke-linejoin="round"/>
<path d="M1886.9,755.5l2.7,2.7 -2.7,2.7 -2.7,-2.7z" stroke="#000" stroke-width="0.8" stroke-linejoin="round"/>
<path d="M1895.9,755.5l2.7,2.7 -2.7,2.7 -2.7,-2.7z" stroke="#000" stroke-width="0.8" stroke-linejoin="round"/>
<path d="M1884.9,760.8l2.7,2.7 -2.7,2.7 -2.7,-2.7z" stroke="#000" stroke-width="0.8" stroke-linejoin="round"/>
<path d="M1891.4,760.8l2.7,2.7 -2.7,2.7 -2.7,-2.7z" stroke="#000" stroke-width="0.8" stroke-linejoin="round"/>
<path d="M1897.9,760.8l2.7,2.7 -2.7,2.7 -2.7,-2.7z" stroke="#000" stroke-width="0.8" stroke-linejoin="round"/>
<path d="M1891.4,764.0l2.7,2.7 -2.7,2.7 -2.7,-2.7z" stroke="#000" stroke-width="0.8" stroke-linejoin="round"/>
<path d="M1891.4,776.8l2.7,2.7 -2.7,2.7 -2.7,-2.7z" stroke="#000" stroke-width="0.8" stroke-linejoin="round"/>
<path d="M1891.4,784.7l2.7,2.7 -2.7,2.7 -2.7,-2.7z" stroke="#000" stroke-width="0.8" stroke-linejoin="round"/>
<path d="M1886.9,794.7l2.7,2.7 -2.7,2.7 -2.7,-2.7z" stroke="#000" stroke-width="0.8" stroke-linejoin="round"/>
<path d="M1895.9,794.7l2.7,2.7 -2.7,2.7 -2.7,-2.7z" stroke="#000" stroke-width="0.8" stroke-linejoin="round"/>
<path d="M1891.4,809.6l2.7,2.7 -2.7,2.7 -2.7,-2.7z" stroke="#000" stroke-width="0.8" stroke-linejoin="round"/>
<path d="M1915.0,673.6l2.7,2.7 -2.7,2.7 -2.7,-2.7z" stroke="#000" stroke-width="0.8" stroke-linejoin="round"/>
<path d="M1910.5,711.7l2.7,2.7 -2.7,2.7 -2.7,-2.7z" stroke="#000" stroke-width="0.8" stroke-linejoin="round"/>
<path d="M1919.5,711.7l2.7,2.7 -2.7,2.7 -2.7,-2.7z" stroke="#000" stroke-width="0.8" stroke-linejoin="round"/>
<path d="M1910.5,715.2l2.7,2.7 -2.7,2.7 -2.7,-2.7z" stroke="#000" stroke-width="0.8" stroke-linejoin="round"/>
<path d="M1919.5,715.2l2.7,2.7 -2.7,2.7 -2.7,-2.7z" stroke="#000" stroke-width="0.8" stroke-linejoin="round"/>
<path d="M1908.5,722.3l2.7,2.7 -2.7,2.7 -2.7,-2.7z" stroke="#000" stroke-width="0.8" stroke-linejoin="round"/>
<path d="M1915.0,722.3l2.7,2.7 -2.7,2.7 -2.7,-2.7z" stroke="#000" stroke-width="0.8" stroke-linejoin="round"/>
<path d="M1921.5,722.3l2.7,2.7 -2.7,2.7 -2.7,-2.7z" stroke="#000" stroke-width="0.8" stroke-linejoin="round"/>
<path d="M1910.5,733.0l2.7,2.7 -2.7,2.7 -2.7,-2.7z" stroke="#000" stroke-width="0.8" stroke-linejoin="round"/>
<path d="M1919.5,733.0l2.7,2.7 -2.7,2.7 -2.7,-2.7z" stroke="#000" stroke-width="0.8" stroke-linejoin="round"/>
<path d="M1910.5,740.2l2.7,2.7 -2.7,2.7 -2.7,-2.7z" stroke="#000" stroke-width="0.8" stroke-linejoin="round"/>
<path d="M1919.5,740.2l2.7,2.7 -2.7,2.7 -2.7,-2.7z" stroke="#000" stroke-width="0.8" stroke-linejoin="round"/>
<path d="M1915.0,759.8l2.7,2.7 -2.7,2.7 -2.7,-2.7z" stroke="#000" stroke-width="0.8" stroke-linejoin="round"/>
<path d="M1915.0,768.7l2.7,2.7 -2.7,2.7 -2.7,-2.7z" stroke="#000" stroke-width="0.8" stroke-linejoin="round"/>
<path d="M1951.0,740.2l2.7,2.7 -2.7,2.7 -2.7,-2.7z" stroke="#000" stroke-width="0.8" stroke-linejoin="round"/>
<path d="M1960.0,740.2l2.7,2.7 -2.7,2.7 -2.7,-2.7z" stroke="#000" stroke-width="0.8" stroke-linejoin="round"/>
<path d="M1951.0,750.8l2.7,2.7 -2.7,2.7 -2.7,-2.7z" stroke="#000" stroke-width="0.8" stroke-linejoin="round"/>
<path d="M1960.0,750.8l2.7,2.7 -2.7,2.7 -2.7,-2.7z" stroke="#000" stroke-width="0.8" stroke-linejoin="round"/>
<path d="M1951.0,753.7l2.7,2.7 -2.7,2.7 -2.7,-2.7z" stroke="#000" stroke-width="0.8" stroke-linejoin="round"/>
<path d="M1960.0,753.7l2.7,2.7 -2.7,2.7 -2.7,-2.7z" stroke="#000" stroke-width="0.8" stroke-linejoin="round"/>
<path d="M1955.5,759.8l2.7,2.7 -2.7,2.7 -2.7,-2.7z" stroke="#000" stroke-width="0.8" stroke-linejoin="round"/>
<path d="M1951.0,763.3l2.7,2.7 -2.7,2.7 -2.7,-2.7z" stroke="#000" stroke-width="0.8" stroke-linejoin="round"/>
<path d="M1960.0,763.3l2.7,2.7 -2.7,2.7 -2.7,-2.7z" stroke="#000" stroke-width="0.8" stroke-linejoin="round"/>
<path d="M1955.5,768.7l2.7,2.7 -2.7,2.7 -2.7,-2.7z" stroke="#000" stroke-width="0.8" stroke-linejoin="round"/>
<path d="M1951.0,781.1l2.7,2.7 -2.7,2.7 -2.7,-2.7z" stroke="#000" stroke-width="0.8" stroke-linejoin="round"/>
<path d="M1960.0,781.1l2.7,2.7 -2.7,2.7 -2.7,-2.7z" stroke="#000" stroke-width="0.8" stroke-linejoin="round"/>
<path d="M1955.5,805.0l2.7,2.7 -2.7,2.7 -2.7,-2.7z" stroke="#000" stroke-width="0.8" stroke-linejoin="round"/>
<path d="M1951.0,808.9l2.7,2.7 -2.7,2.7 -2.7,-2.7z" stroke="#000" stroke-width="0.8" stroke-linejoin="round"/>
<path d="M1960.0,808.9l2.7,2.7 -2.7,2.7 -2.7,-2.7z" stroke="#000" stroke-width="0.8" stroke-linejoin="round"/>
<path d="M1974.7,699.9l2.7,2.7 -2.7,2.7 -2.7,-2.7z" stroke="#000" stroke-width="0.8" stroke-linejoin="round"/>
<path d="M1983.7,699.9l2.7,2.7 -2.7,2.7 -2.7,-2.7z" stroke="#000" stroke-width="0.8" stroke-linejoin="round"/>
<path d="M1979.2,702.8l2.7,2.7 -2.7,2.7 -2.7,-2.7z" stroke="#000" stroke-width="0.8" stroke-linejoin="round"/>
<path d="M1972.7,721.6l2.7,2.7 -2.7,2.7 -2.7,-2.7z" stroke="#000" stroke-width="0.8" stroke-linejoin="round"/>
<path d="M1979.2,721.6l2.7,2.7 -2.7,2.7 -2.7,-2.7z" stroke="#000" stroke-width="0.8" stroke-linejoin="round"/>
<path d="M1985.7,721.6l2.7,2.7 -2.7,2.7 -2.7,-2.7z" stroke="#000" stroke-width="0.8" stroke-linejoin="round"/>
<path d="M1979.2,724.1l2.7,2.7 -2.7,2.7 -2.7,-2.7z" stroke="#000" stroke-width="0.8" stroke-linejoin="round"/>
<path d="M1979.2,736.6l2.7,2.7 -2.7,2.7 -2.7,-2.7z" stroke="#000" stroke-width="0.8" stroke-linejoin="round"/>
<path d="M1979.2,749.8l2.7,2.7 -2.7,2.7 -2.7,-2.7z" stroke="#000" stroke-width="0.8" stroke-linejoin="round"/>
<path d="M1974.7,761.5l2.7,2.7 -2.7,2.7 -2.7,-2.7z" stroke="#000" stroke-width="0.8" stroke-linejoin="round"/>
<path d="M1983.7,761.5l2.7,2.7 -2.7,2.7 -2.7,-2.7z" stroke="#000" stroke-width="0.8" stroke-linejoin="round"/>
<path d="M1972.7,809.6l2.7,2.7 -2.7,2.7 -2.7,-2.7z" stroke="#000" stroke-width="0.8" stroke-linejoin="round"/>
<path d="M1979.2,809.6l2.7,2.7 -2.7,2.7 -2.7,-2.7z" stroke="#000" stroke-width="0.8" stroke-linejoin="round"/>
<path d="M1985.7,809.6l2.7,2.7 -2.7,2.7 -2.7,-2.7z" stroke="#000" stroke-width="0.8" stroke-linejoin="round"/>
<path d="M1979.2,835.3l2.7,2.7 -2.7,2.7 -2.7,-2.7z" stroke="#000" stroke-width="0.8" stroke-linejoin="round"/>
<path d="M2015.2,740.2l2.7,2.7 -2.7,2.7 -2.7,-2.7z" stroke="#000" stroke-width="0.8" stroke-linejoin="round"/>
<path d="M2024.2,740.2l2.7,2.7 -2.7,2.7 -2.7,-2.7z" stroke="#000" stroke-width="0.8" stroke-linejoin="round"/>
<path d="M2015.2,751.9l2.7,2.7 -2.7,2.7 -2.7,-2.7z" stroke="#000" stroke-width="0.8" stroke-linejoin="round"/>
<path d="M2024.2,751.9l2.7,2.7 -2.7,2.7 -2.7,-2.7z" stroke="#000" stroke-width="0.8" stroke-linejoin="round"/>
<path d="M2013.2,758.0l2.7,2.7 -2.7,2.7 -2.7,-2.7z" stroke="#000" stroke-width="0.8" stroke-linejoin="round"/>
<path d="M2019.7,758.0l2.7,2.7 -2.7,2.7 -2.7,-2.7z" stroke="#000" stroke-width="0.8" stroke-linejoin="round"/>
<path d="M2026.2,758.0l2.7,2.7 -2.7,2.7 -2.7,-2.7z" stroke="#000" stroke-width="0.8" stroke-linejoin="round"/>
<path d="M2019.7,763.3l2.7,2.7 -2.7,2.7 -2.7,-2.7z" stroke="#000" stroke-width="0.8" stroke-linejoin="round"/>
<path d="M2019.7,773.3l2.7,2.7 -2.7,2.7 -2.7,-2.7z" stroke="#000" stroke-width="0.8" stroke-linejoin="round"/>
<path d="M2019.7,784.0l2.7,2.7 -2.7,2.7 -2.7,-2.7z" stroke="#000" stroke-width="0.8" stroke-linejoin="round"/>
<path d="M2019.7,788.3l2.7,2.7 -2.7,2.7 -2.7,-2.7z" stroke="#000" stroke-width="0.8" stroke-linejoin="round"/>
<path d="M2019.7,795.4l2.7,2.7 -2.7,2.7 -2.7,-2.7z" stroke="#000" stroke-width="0.8" stroke-linejoin="round"/>
<path d="M2019.7,810.3l2.7,2.7 -2.7,2.7 -2.7,-2.7z" stroke="#000" stroke-width="0.8" stroke-linejoin="round"/>
<path d="M2043.4,700.3l2.7,2.7 -2.7,2.7 -2.7,-2.7z" stroke="#000" stroke-width="0.8" stroke-linejoin="round"/>
<path d="M2038.9,721.3l2.7,2.7 -2.7,2.7 -2.7,-2.7z" stroke="#000" stroke-width="0.8" stroke-linejoin="round"/>
<path d="M2047.9,721.3l2.7,2.7 -2.7,2.7 -2.7,-2.7z" stroke="#000" stroke-width="0.8" stroke-linejoin="round"/>
<path d="M2043.4,723.3l2.7,2.7 -2.7,2.7 -2.7,-2.7z" stroke="#000" stroke-width="0.8" stroke-linejoin="round"/>
<path d="M2038.9,728.4l2.7,2.7 -2.7,2.7 -2.7,-2.7z" stroke="#000" stroke-width="0.8" stroke-linejoin="round"/>
<path d="M2047.9,728.4l2.7,2.7 -2.7,2.7 -2.7,-2.7z" stroke="#000" stroke-width="0.8" stroke-linejoin="round"/>
<path d="M2043.4,734.8l2.7,2.7 -2.7,2.7 -2.7,-2.7z" stroke="#000" stroke-width="0.8" stroke-linejoin="round"/>
<path d="M2038.9,743.7l2.7,2.7 -2.7,2.7 -2.7,-2.7z" stroke="#000" stroke-width="0.8" stroke-linejoin="round"/>
<path d="M2047.9,743.7l2.7,2.7 -2.7,2.7 -2.7,-2.7z" stroke="#000" stroke-width="0.8" stroke-linejoin="round"/>
<path d="M2038.9,755.5l2.7,2.7 -2.7,2.7 -2.7,-2.7z" stroke="#000" stroke-width="0.8" stroke-linejoin="round"/>
<path d="M2047.9,755.5l2.7,2.7 -2.7,2.7 -2.7,-2.7z" stroke="#000" stroke-width="0.8" stroke-linejoin="round"/>
<path d="M2043.4,764.0l2.7,2.7 -2.7,2.7 -2.7,-2.7z" stroke="#000" stroke-width="0.8" stroke-linejoin="round"/>
<path d="M2043.4,774.0l2.7,2.7 -2.7,2.7 -2.7,-2.7z" stroke="#000" stroke-width="0.8" stroke-linejoin="round"/>
<path d="M2043.4,808.5l2.7,2.7 -2.7,2.7 -2.7,-2.7z" stroke="#000" stroke-width="0.8" stroke-linejoin="round"/>
<path d="M2043.4,847.7l2.7,2.7 -2.7,2.7 -2.7,-2.7z" stroke="#000" stroke-width="0.8" stroke-linejoin="round"/>
<line x1="1149.40" y1="1000.50" x2="2062.70" y2="1000.50" stroke="#000" stroke-width="4.6" stroke-linecap="butt"/>
<line x1="1170.30" y1="547.70" x2="1170.30" y2="1002.80" stroke="#000" stroke-width="4.6" stroke-linecap="butt"/>
<line x1="1149.50" y1="550.00" x2="1170.30" y2="550.00" stroke="#000" stroke-width="4.6" stroke-linecap="butt"/>
<line x1="1149.50" y1="699.80" x2="1170.30" y2="699.80" stroke="#000" stroke-width="4.6" stroke-linecap="butt"/>
<line x1="1149.50" y1="850.00" x2="1170.30" y2="850.00" stroke="#000" stroke-width="4.6" stroke-linecap="butt"/>
<line x1="1197.00" y1="1000.50" x2="1197.00" y2="1019.30" stroke="#000" stroke-width="4.6" stroke-linecap="butt"/>
<line x1="1261.17" y1="1000.50" x2="1261.17" y2="1019.30" stroke="#000" stroke-width="4.6" stroke-linecap="butt"/>
<line x1="1325.34" y1="1000.50" x2="1325.34" y2="1019.30" stroke="#000" stroke-width="4.6" stroke-linecap="butt"/>
<line x1="1389.51" y1="1000.50" x2="1389.51" y2="1019.30" stroke="#000" stroke-width="4.6" stroke-linecap="butt"/>
<line x1="1453.68" y1="1000.50" x2="1453.68" y2="1019.30" stroke="#000" stroke-width="4.6" stroke-linecap="butt"/>
<line x1="1517.85" y1="1000.50" x2="1517.85" y2="1019.30" stroke="#000" stroke-width="4.6" stroke-linecap="butt"/>
<line x1="1582.02" y1="1000.50" x2="1582.02" y2="1019.30" stroke="#000" stroke-width="4.6" stroke-linecap="butt"/>
<line x1="1646.19" y1="1000.50" x2="1646.19" y2="1019.30" stroke="#000" stroke-width="4.6" stroke-linecap="butt"/>
<line x1="1710.36" y1="1000.50" x2="1710.36" y2="1019.30" stroke="#000" stroke-width="4.6" stroke-linecap="butt"/>
<line x1="1774.53" y1="1000.50" x2="1774.53" y2="1019.30" stroke="#000" stroke-width="4.6" stroke-linecap="butt"/>
<line x1="1838.70" y1="1000.50" x2="1838.70" y2="1019.30" stroke="#000" stroke-width="4.6" stroke-linecap="butt"/>
<line x1="1902.87" y1="1000.50" x2="1902.87" y2="1019.30" stroke="#000" stroke-width="4.6" stroke-linecap="butt"/>
<line x1="1967.04" y1="1000.50" x2="1967.04" y2="1019.30" stroke="#000" stroke-width="4.6" stroke-linecap="butt"/>
<line x1="2031.21" y1="1000.50" x2="2031.21" y2="1019.30" stroke="#000" stroke-width="4.6" stroke-linecap="butt"/>
<text x="1107.81" y="561.27" font-size="34.88" fill="#000" textLength="38.83" lengthAdjust="spacing" stroke="#000" stroke-width="1.5" stroke-linejoin="round">60</text>
<text x="1108.27" y="711.07" font-size="34.88" fill="#000" textLength="38.37" lengthAdjust="spacing" stroke="#000" stroke-width="1.5" stroke-linejoin="round">40</text>
<text x="1107.31" y="861.27" font-size="34.88" fill="#000" textLength="39.33" lengthAdjust="spacing" stroke="#000" stroke-width="1.5" stroke-linejoin="round">20</text>
<text x="1128.45" y="1011.27" font-size="34.88" fill="#000" textLength="18.05" lengthAdjust="spacingAndGlyphs" stroke="#000" stroke-width="1.5" stroke-linejoin="round">0</text>
<text x="1188.23" y="1054.07" font-size="34.38" fill="#000" textLength="18.40" lengthAdjust="spacingAndGlyphs" stroke="#000" stroke-width="1.5" stroke-linejoin="round">0</text>
<text x="1242.77" y="1054.07" font-size="34.35" fill="#000" textLength="38.43" lengthAdjust="spacing" stroke="#000" stroke-width="1.5" stroke-linejoin="round">15</text>
<text x="1306.60" y="1054.07" font-size="34.38" fill="#000" textLength="37.56" lengthAdjust="spacing" stroke="#000" stroke-width="1.5" stroke-linejoin="round">30</text>
<text x="1371.29" y="1054.07" font-size="34.35" fill="#000" textLength="37.13" lengthAdjust="spacing" stroke="#000" stroke-width="1.5" stroke-linejoin="round">45</text>
<text x="1434.51" y="1054.07" font-size="34.38" fill="#000" textLength="37.99" lengthAdjust="spacing" stroke="#000" stroke-width="1.5" stroke-linejoin="round">60</text>
<text x="1498.60" y="1054.07" font-size="34.35" fill="#000" textLength="38.16" lengthAdjust="spacing" stroke="#000" stroke-width="1.5" stroke-linejoin="round">75</text>
<text x="1563.72" y="1054.07" font-size="34.38" fill="#000" textLength="37.70" lengthAdjust="spacing" stroke="#000" stroke-width="1.5" stroke-linejoin="round">90</text>
<text x="1620.27" y="1054.07" font-size="34.38" fill="#000" textLength="54.39" lengthAdjust="spacing" stroke="#000" stroke-width="1.5" stroke-linejoin="round">105</text>
<text x="1684.37" y="1054.07" font-size="34.38" fill="#000" textLength="54.30" lengthAdjust="spacing" stroke="#000" stroke-width="1.5" stroke-linejoin="round">120</text>
<text x="1748.37" y="1054.07" font-size="34.38" fill="#000" textLength="54.49" lengthAdjust="spacing" stroke="#000" stroke-width="1.5" stroke-linejoin="round">135</text>
<text x="1812.57" y="1054.07" font-size="34.38" fill="#000" textLength="54.30" lengthAdjust="spacing" stroke="#000" stroke-width="1.5" stroke-linejoin="round">150</text>
<text x="1876.67" y="1054.07" font-size="34.38" fill="#000" textLength="54.39" lengthAdjust="spacing" stroke="#000" stroke-width="1.5" stroke-linejoin="round">165</text>
<text x="1940.77" y="1054.07" font-size="34.38" fill="#000" textLength="54.30" lengthAdjust="spacing" stroke="#000" stroke-width="1.5" stroke-linejoin="round">180</text>
<text x="2004.77" y="1054.07" font-size="34.38" fill="#000" textLength="55.19" lengthAdjust="spacing" stroke="#000" stroke-width="1.5" stroke-linejoin="round">195</text>
<text transform="translate(1087.19,903.62) rotate(-90)" x="0" y="0" font-size="36.61" fill="#000" textLength="176.70" lengthAdjust="spacing" stroke="#000" stroke-width="0.8" stroke-linejoin="round">Frequency</text>
<text transform="translate(1084.30,715.09) rotate(-90)" x="0" y="0" font-size="36.60" fill="#000" textLength="69.20" lengthAdjust="spacing">(Hz)</text>
<text x="1574.31" y="1087.12" font-size="28.28" fill="#000" textLength="189.22" lengthAdjust="spacing" stroke="#000" stroke-width="0.3" stroke-linejoin="round">Time (minutes)</text>
<rect x="1953.60" y="531.20" width="22.20" height="21.80" fill="#47E41E"/>
<rect x="1953.60" y="560.00" width="22.20" height="21.50" fill="#6157FF"/>
<text x="1981.72" y="550.30" font-size="25.50" fill="#000" textLength="80.46" lengthAdjust="spacing">Control</text>
<text x="1981.26" y="580.20" font-size="24.80" fill="#000" textLength="84.22" lengthAdjust="spacing">ΔMdm2</text>
<text x="2064.68" y="572.30" font-size="16.00" fill="#000" textLength="30.19" lengthAdjust="spacing">Hep</text>
</svg></body></html>
